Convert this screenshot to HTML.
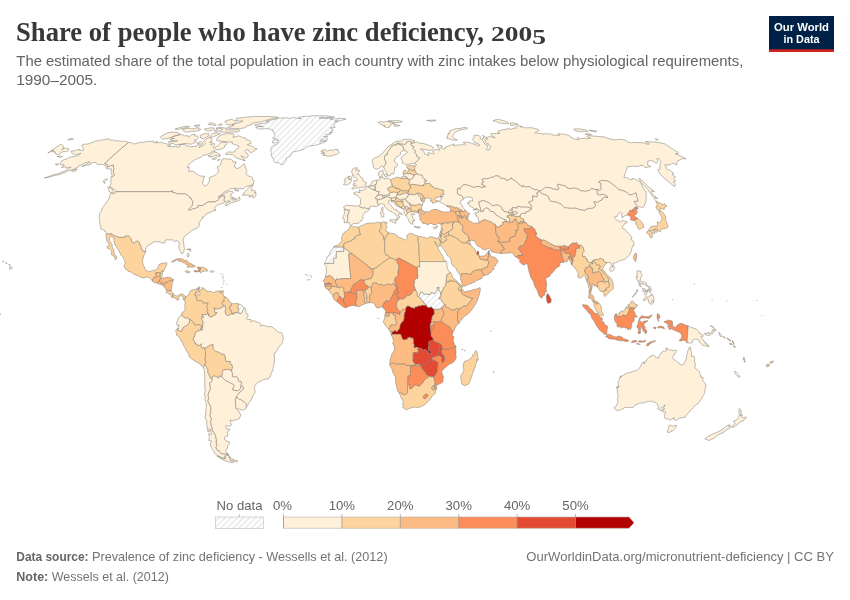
<!DOCTYPE html>
<html lang="en">
<head>
<meta charset="utf-8">
<title>Share of people who have zinc deficiency, 2005</title>
<style>
html,body{margin:0;padding:0;background:#fff;}
body{width:850px;height:600px;position:relative;overflow:hidden;font-family:"Liberation Sans","DejaVu Sans",sans-serif;}
svg{position:absolute;left:0;top:0;will-change:transform;}
.title{font-family:"Liberation Serif","DejaVu Serif",serif;font-weight:700;font-size:28px;fill:#383838;}
.sub{font-size:14.8px;fill:#636363;}
.foot{font-size:12.6px;fill:#737373;}
.leg{font-size:13.2px;fill:#666;}
.logo{font-weight:700;font-size:11.6px;fill:#fff;}
.map path{stroke:#7d7871;stroke-width:0.5;stroke-linejoin:round;}
</style>
</head>
<body>
<svg width="850" height="600" viewBox="0 0 850 600">
<defs>
<pattern id="nd" patternUnits="userSpaceOnUse" width="4.3" height="4.3" patternTransform="rotate(45)">
<rect width="4.4" height="4.4" fill="#fff"/><rect width="1.3" height="4.4" fill="#e7e7e7"/>
</pattern>
</defs>
<rect width="850" height="600" fill="#fff"/>
<text class="title" x="16" y="40.5" textLength="468" lengthAdjust="spacingAndGlyphs">Share of people who have zinc deficiency,</text>
<text class="title" x="491" y="40.5" textLength="55" lengthAdjust="spacingAndGlyphs" style="font-size:20.5px">200<tspan dy="3.6">5</tspan></text>
<text class="sub" x="16.3" y="66.1" textLength="727" lengthAdjust="spacingAndGlyphs">The estimated share of the total population in each country with zinc intakes below physiological requirements,</text>
<text class="sub" x="16.3" y="84.6" textLength="81" lengthAdjust="spacingAndGlyphs">1990–2005.</text>
<g>
<rect x="769" y="16" width="65" height="36" fill="#002147"/>
<rect x="769" y="49.3" width="65" height="2.7" fill="#ce261e"/>
<text class="logo" x="801.5" y="30.8" text-anchor="middle" textLength="55" lengthAdjust="spacingAndGlyphs">Our World</text>
<text class="logo" x="801.5" y="42.7" text-anchor="middle" textLength="36" lengthAdjust="spacingAndGlyphs">in Data</text>
</g>
<g class="map">
<path d="M210.6,270.8L212.6,270.8L214.2,271.3L213.6,272.1L211.8,272.2L210.5,272.1Z" fill="url(#nd)" stroke="#d4d4d4"/>
<path d="M299,117.2L304.2,116.3L308.9,116.3L310.9,115.9L315.8,115.7L326.5,115.9L334.6,117.1L331.8,117.7L326.6,117.7L319.1,117.9L319.6,118.2L324.5,118L328.7,118.5L331.5,118L332.4,118.7L330.5,119.5L334.4,119L341.2,118.3L345.3,118.7L346,119.3L340,120.5L339.2,120.9L334.5,121.1L337.8,121.3L335.8,122.6L334.3,123.8L333.8,126L335.3,127.2L333,127.4L330.3,127.9L332.9,128.9L332.8,130.6L331.1,130.8L332.7,132.6L329.2,132.8L331,133.6L330.2,134.2L327.9,134.6L325.7,134.6L327.4,136.1L327.2,136.9L324.2,136.1L323.2,136.7L325.4,137.2L327.2,138.4L327.4,140.2L324.5,140.6L323.3,139.8L321.6,138.6L321.8,140L319.5,141.2L324,141.2L326.2,141.4L321.4,143.3L316.5,145L311.2,145.8L309.3,145.8L307.4,146.7L304.3,149L300.1,150.6L299,150.7L296.4,151.2L293.8,151.8L291.7,153.2L291.2,154.8L289.9,156.3L286.4,158.2L286.5,160.1L285,162L283.3,164.3L280.7,164.5L278.7,162.5L275,162.5L273.8,161.2L273.4,158.9L271.4,156.1L271.1,154.5L271.7,152.4L270.3,150.3L271.6,148.8L270.8,147.9L273.7,145.3L276.5,144.5L277.6,143.5L278.8,141.8L276.6,142.6L275.5,143L273.8,143.2L272.1,142.5L272.8,141L274,139.9L275.5,139.8L278.6,140.4L276.5,139.1L275.4,138.3L273.6,138.6L272.6,138.1L275.4,136.1L274.9,135.3L274.4,133.9L273.8,131.7L272.3,130.9L272.9,130.1L269.5,128.9L266.5,128.7L262.2,128.9L258.5,129L257.2,128.3L255.6,127.2L260,126.6L263.2,126.4L257.2,126L254.6,125.2L255.4,124.5L261.8,123.5L268,122.6L269.2,121.9L265.9,121.3L267.7,120.6L273.7,119.5L275.9,119.3L276,118.5L279.6,118.1L284.1,117.9L288.4,117.9L289.5,118.3L293.7,117.5L296.7,118.1L298.5,118.2L301.1,118.7L298.3,117.9Z" fill="url(#nd)" stroke="#d4d4d4"/>
<path d="M239,304L239.7,304.3L241.4,304.9L243.8,307.1L244.2,308.2L242.8,310.6L242,312.5L241.1,313.5L240,313.7L239.7,312.9L239.2,312.8L238.5,313.5L237.5,313L238.1,311.9L238.3,310.7L238.7,309.6L237.9,308L237.7,306.2Z" fill="url(#nd)" stroke="#d4d4d4"/>
<path d="M343.8,246.9L333.8,246.9L332.4,249.6L330.9,250.6L330,252.2L329.9,253.6L329.3,255.1L328.5,255.5L327.2,257.2L326.4,259L326.5,259.9L325.7,261.2L324.9,261.9L324.7,263.2L324.6,264.3L325.1,263.4L333.9,263.4L333.6,259.6L334.2,258.3L336.3,258.1L336.4,251.4L343.7,251.5L343.8,247.6Z" fill="url(#nd)" stroke="#d4d4d4"/>
<path d="M441.1,294.3L441.2,296.4L440.9,297.2L439.6,297.2L438.9,298.7L440.3,298.9L441.5,300.2L441.9,301.2L443,301.8L444.4,304.6L442.9,306.4L441.5,307.9L440.1,309.1L438.5,309.1L436.6,309.7L435.1,309.1L434.2,309.8L432.1,308.1L431.6,307L430.3,307.6L429.2,307.4L428.6,307.8L427.6,307.5L426.2,305.4L425.8,304.5L424.1,303.5L423.4,301.9L422.5,300.8L420.9,299.4L420.9,298.6L419.6,297.5L418,296.5L418,296.5L418.7,296.2L419.5,295.7L420,293.4L420.7,292.2L422.3,291.9L422.7,292.6L423.9,294.1L424.6,294.3L425.4,293.9L427,294L427.4,294.5L429.7,294.5L429.7,294L430.9,293.5L431.1,292.7L432,292.2L433.9,293.7L435.1,293.4L436.2,291.5L437.4,290.1L437.2,288.5L436.6,287.8L438,287.7L438.1,287.1L439.2,287.2L439,289.2L439.3,291.1L440.5,292.1L440.8,293L440.8,294.3L441.1,294.3Z" fill="url(#nd)" stroke="#d4d4d4"/>
<path d="M441.2,234.6L441.4,236.1L441.1,236.9L440.1,237.3L440.1,236.6L440.7,236.2L440.1,235.9L440.3,234.2Z" fill="url(#nd)" stroke="#d4d4d4"/>
<path d="M737.8,374L739.3,375.6L740.1,376.8L739.1,377.4L738,376.7L736.7,375.5L735.6,374.1L734.6,372.3L734.5,371.4L735.5,371.5L736.5,372.3L737.3,373.2Z" fill="url(#nd)" stroke="#d4d4d4"/>
<path d="M128.5,142.5L131.3,142.7L134.1,144.1L139.4,142.5L141.7,142.7L148.6,141.2L150.4,141.7L153.1,140.8L153.5,142.7L157.3,141.4L155.8,143L161.4,142.1L163.1,143L166,143.8L167.9,144.3L169.8,144.1L170.9,145.2L167.5,146.3L170.1,146.7L174.9,146.5L176.8,146.1L177.3,147.4L180.2,146.3L179.3,145.4L181.1,144.6L184.7,144.3L185.8,144.7L186.3,146.1L188.4,145.8L190.4,146.8L193.4,146.5L196,146.5L196.8,145.2L198.6,144.7L200.6,145.6L199,147.6L201.4,145.8L202.8,145.8L205.4,143.6L204.7,142.3L203.5,141.4L205.8,139.1L209.1,137.6L211,137.8L211.7,138.9L211.9,141.2L209.5,142.3L212.3,142.7L210.6,145L214.2,143.2L215,144.7L213.3,146.3L213.7,147.9L216.7,146.3L219.3,144.3L221.3,141.9L223.5,142.1L225.8,142.3L227.2,143.4L226.6,144.5L224.3,145.8L224.7,147L223.8,148.1L219.4,149.7L216.8,149.9L215.4,149.2L214.1,150.3L211.1,152.4L209.9,153.3L206.7,154.9L204,155.1L202,156.1L200.8,157.5L198.5,157.9L194.8,159.8L191.2,162.4L189.1,164.3L187,167.2L189.6,167.4L188.8,169.8L188.6,171.5L191.6,171.1L194.6,172L195.9,173L196.5,174.2L198.4,175L199.9,175.9L202.9,176.2L204.8,176.4L203.6,178.4L202.9,180.9L202.9,183.6L204.7,186.1L206.6,185.4L208.9,182.6L209.7,178.9L209.1,177.4L212.7,176.4L215.7,174.7L217.7,173L218.4,171.3L218.3,169.1L217,167.4L220.7,164.8L221,162.6L222.5,159.1L224.2,158.4L226.8,159.1L228.5,159.3L230.4,158.9L231.6,159.6L233,161L233.1,161.9L236.3,161.9L235.2,164.1L234.3,166.9L235.8,167.4L236.6,168.9L239.9,167.4L243,164.8L244.5,163.8L245,166L246.1,168.9L247,171.8L245.5,173.5L247.5,174.7L248.6,176.2L251.4,176.9L252.5,177.7L252.5,179.7L253.7,180.1L254.2,180.9L253.4,183.9L251.8,184.6L250,185.6L246.4,186.4L243.3,188.6L239.8,188.9L235.6,188.4L232.6,188.4L230.5,188.6L228.2,190.4L225.2,191.4L221.1,195L217.9,197.3L219.7,196.8L224.3,193.5L229.1,191.4L232.2,191.2L233.6,192.4L231.2,194L230.9,196.8L230.9,198.8L233.1,200.1L236.8,199.6L239.7,196.8L239.3,198.5L240.3,199.6L237.3,201.1L232.1,202.6L229.9,203.7L226.8,205.7L225.4,205.5L226,203.2L230.3,201.1L227,201.1L224.6,201.6L223.7,200.1L224.9,196.5L224.3,195.7L222.7,196.3L222.3,195.7L220,197.5L218.7,199.6L217.5,200.6L215.9,201.1L215.4,201.9L211.7,201.9L208.4,201.9L207.4,202.4L204.4,204.2L203.1,205.5L199.2,205.5L198,205.7L198.3,206.2L198.1,207.3L194.9,208.6L192.4,209.1L189.6,210.4L188.5,210.1L188.5,209.3L190.9,207L192.1,205.5L192.5,203.4L192.8,201.1L191.3,199.8L191.7,199.3L190.8,198.5L191,198L189.6,197.8L189.8,197L187.3,195.2L184.2,193.5L182.1,194.2L179.4,193.5L177.5,194L175.9,193.2L174.1,192.7L172.8,192.4L172.3,192.2L172.7,190.7L171.9,190.7L171.4,191.7L161.7,191.7L151.6,191.7L141.6,191.7L131.5,191.7L121.4,191.7L115.8,191.7L115.9,190.9L113.2,189.1L112.5,188.1L109.7,187.1L110.2,184.9L111.5,183.4L110.1,182.1L111.4,180.1L110.5,178.4L111.5,177.2L113.5,175.9L114.8,174.5L113,172.8L113.6,170.1L113.8,168.4L113.3,167.2L113.1,166.2L113.2,165L110.6,165.7L107.4,167.2L107.5,165.5L107.2,164.6L106.1,163.8L104.3,163.8L108.5,159.8L113.6,155.1L118.8,150.6L124.1,146.1L128.5,142.5ZM113.5,192.9L109.6,192.2L107.7,187.1L109.5,187.6L112,188.4L112.6,190.4L113.7,191.4ZM105.6,179.2L107.7,178.9L104.9,181.6L104.8,183.6L103.7,182.6L103.5,180.6ZM251.5,187.4L252,189.4L251.2,190.2L252.8,190.9L253.8,190.2L255.5,191.2L254.4,192.9L256,192.4L255.8,193.7L256.1,195.5L254.6,197.5L253.7,197.8L252.4,197.3L253.4,195.2L253.1,194.9L250,197L248.8,197L250.6,195.7L248.8,195.2L246.7,195.2L242.6,195.2L242.6,194.5L244.1,193.6L243.5,192.9L245.6,191.4L248.9,187.4L250.8,185.9L252.6,185.1L253.6,185.1ZM232.5,196.8L232.8,197.9L234.3,198.3L236.1,198.3L234.8,199.3L232.2,198.3ZM234,189.4L237,189.9L238.9,190.9L235.4,190.7ZM215,151.2L214.6,152.4L215.8,151.9L216.4,152.6L217.8,153.3L219.5,154L218.8,155.2L220.2,155L220.9,155.8L218.9,156.5L216.6,156L216.2,154.9L213.7,156.1L210.3,157.4L210.5,156.1L208,156.3L210.3,155.1L211.9,153.3ZM214.6,157.7L216.6,157.7L215.5,159.3L213.4,159.3L212.1,159.3L212.1,158.8ZM218.3,159.6L220.2,159.3L218.6,160.8L217.5,160.5ZM245.4,160.5L243.5,160.1L243.8,159.1L242.5,157.7L241.1,155.7L244.5,157.6L246.6,158.2L247.9,156.5L248.1,154.2L247.7,153.6L245.7,152.6L244.8,151.2L245.7,149.9L248.1,149.7L249.5,151.9L251.2,152.8L255.6,150.1L257,148.5L254.4,148.5L252.9,146.4L250.6,145.9L247.4,144.5L251.1,143.4L250.8,141.4L249.9,140.6L246.5,139.7L245.9,138.2L242.9,137.8L241.3,136.9L238.6,135.8L236.4,136.6L232.7,137.2L234.1,135.9L233.2,133.7L228.8,133.8L227.4,133.6L221.6,134.8L217.7,137.4L216.7,139.5L216.9,140.8L220.4,141L222.3,141.7L227.1,141.9L230.1,142.3L232.3,141.7L231.9,143.4L234.3,144.5L236.9,145.2L238.9,146.1L238.6,147.9L235.5,149.9L234.9,151.7L232.2,152.2L228,151.9L225.6,153.8L225.9,154.5L229.1,154.5L232.6,154.5L234.5,156.3L236.1,157.7L239,158.9L242.9,160.1ZM168.4,142.5L170.6,143.3L173.4,143.4L174.6,144.7L179,144.5L185.1,143.4L187.3,143.7L191.1,144.2L195,142.5L196.2,141.2L194,140.6L197,139.5L198.5,137.2L197.2,136.1L194.6,135.7L194.5,134L191.6,134.6L189.3,136.7L187.9,137.2L187.8,135.5L184.6,135.9L183.7,135.3L181.3,134.4L179.2,135L175.1,135.7L172.4,136.7L171.2,138.4L174.3,138.6L170,139.1L170.7,140.4L177.7,140.8L175.3,141.4L168.6,141.7ZM162.4,139.3L160.6,137.6L161.3,136.1L165.8,133.8L168.3,132.6L173.2,132.1L178.2,132.6L180.3,134.2L174.5,136.3L170.3,137.6L166.9,138.6ZM182.4,129.9L183.9,131.2L185.3,132.2L190.5,131.7L196.3,131.1L200.1,130.1L200.6,129.1L198.2,128.7L198.8,127.7L197.6,127.5L194.9,128.5L191.2,128.9L188,128.1L182.9,129.3ZM175,129.1L178.6,129.3L182.1,128.5L187.7,127.4L189.6,126.4L186.1,126.2L179.6,127.5ZM200.2,135.5L200.5,137.8L203.6,138.6L208.2,136.3L209.1,133.8L204.6,133.6ZM212.7,133.2L209.5,137.2L211.6,137.4L216,135.7L220.6,133.6L218.1,133ZM219.8,131.7L225.4,132.4L233.5,132L237.9,131.8L240,130.7L238.8,129.6L232.5,129.8L225.9,129.9L226.8,128.3L222.6,127.7L218.5,127.3L216,128.3L220.7,128.5L222.9,129.3L220.4,130.5ZM204.1,129.1L206,130.1L207.9,131.1L212.5,130.1L214.4,128.1L211.1,127.7L207.1,128.5ZM214.2,130.3L215.1,131.7L217.4,131.7L218.8,130.5L218,129.7ZM227.3,128.1L233.7,128.5L240.3,128.7L245.5,127.5L246,126.2L252.3,124.3L251.9,123.3L256.2,122.6L260.8,121.9L265.3,120.5L273.9,118.3L277.9,117.5L277.9,117.1L269.9,116.5L260,116.5L255.2,116.4L250.5,116.8L245.9,117.2L242.3,117.7L236,118.3L236.7,119.4L238,121L242.9,121.1L238.7,122.8L236.1,123.3L231.9,124.7L233.8,125.4L231.2,126.2L228.1,127.3ZM231.4,119.4L234.1,120.3L236.7,120.6L236,122.4L234.7,123.7L231.1,124.9L226.9,124.7L226.4,123.2L225.1,122L225,121.2L228.6,120ZM210.2,122.8L212.8,123L216.4,125.2L214.5,125.6L211.2,124.7L208.3,124.5ZM220.8,123.7L222.5,124.5L220.9,125.4L218.4,125ZM198.7,124.9L200.2,125.4L199,125.8L195.5,126.4L194.1,125.8L196.3,125.1ZM196.6,143L198.7,142.3L200.7,141.4L201.9,142L202.5,142.4L203.1,143.6L201.3,144.4L199.7,143.7L198.1,144Z" fill="#fef0d9"/>
<path d="M115.8,191.7L115.2,193.2L113.6,193.8L110.9,193.3L109.7,195.5L109.7,197L108.6,199.3L106.9,201.9L105.2,204.4L102.5,207.5L101.7,210.1L100.8,212.2L99.2,214L99.6,215.3L99,217.5L99.5,219.4L100.1,220.5L99.6,222L100,223.6L100,224.6L101,227.2L100.6,228.8L102.9,229.6L104.6,230.4L104.5,231.1L105.5,231.4L106.2,233L106.2,234.3L108.7,234L111.6,233.7L111.2,234.3L114.1,235.6L118.5,237.4L122.9,237.4L124.7,237.4L125.1,236.1L128.8,236.1L129.4,237.1L130.3,237.9L131.2,239.2L131.5,240.5L131.6,241.8L132.7,242.6L134.3,243.4L136.1,241.3L137.9,241.3L139.2,242.4L139.8,244.2L140.4,245.7L141.3,247.3L141.4,249.1L141.8,250.2L143.4,251L144.8,251.7L145.8,251.5L145.6,249.4L146,247.6L148.3,245.2L150.7,244.2L153.2,242.1L155.4,241.6L158.1,242L160.2,241.6L161.4,243L163.1,243.1L164.8,243L165,240.3L167.7,239.7L169.7,240L172.2,239.7L173.3,240.4L174.2,241.6L177.1,240.5L177.8,241L179.2,243.1L179.4,244.6L178.8,246.3L179.3,249.4L180.3,251.5L181.1,253.3L182.9,253.3L183.8,251.7L184.4,248.9L183.9,246L184,244.7L183.2,240.8L183.2,239L184,237.1L186.9,234.3L189.8,232.4L191.6,230.7L194.3,229.3L197,228.3L199,226.3L199.3,223.7L198.7,222.5L199.6,222L200.7,220.2L202.4,218.9L202.6,217.9L202.3,216.8L203.2,217.5L205.3,215.5L206.3,213.7L211,212.2L211.4,211.4L213.3,210.9L214.3,210.9L215.7,210.5L216,209.5L214.7,209.7L214.6,208.7L215,207.3L217.2,205.2L219.5,204.4L222.1,203.5L224.3,202.6L224.6,201.6L223.7,200.1L224.9,196.5L224.3,195.7L222.7,196.3L222.3,195.7L220,197.5L218.7,199.6L217.5,200.6L215.9,201.1L215.4,201.9L211.7,201.9L208.4,201.9L207.4,202.4L204.4,204.2L203.1,205.5L199.2,205.5L198,205.7L198.3,206.2L198.1,207.3L194.9,208.6L192.4,209.1L189.6,210.4L188.5,210.1L188.5,209.3L190.9,207L192.1,205.5L192.5,203.4L192.8,201.1L191.3,199.8L191.7,199.3L190.8,198.5L191,198L189.6,197.8L189.8,197L187.3,195.2L184.2,193.5L182.1,194.2L179.4,193.5L177.5,194L175.9,193.2L174.1,192.7L172.8,192.4L172.3,192.2L172.7,190.7L171.9,190.7L171.4,191.7L161.7,191.7L151.6,191.7L141.6,191.7L131.5,191.7L121.4,191.7L115.8,191.7ZM128.5,142.5L125.8,141.2L122.1,141.4L119.1,140.8L114.7,140.8L113.4,139.9L109.7,140.1L109.6,139.3L108.1,138.6L103.9,139.9L102.6,139.7L97.9,140.8L95.7,141L90.9,143L88,144.1L84.3,144.1L81.7,145.2L83.2,147L82.8,148.1L83.7,149L83.2,150.3L79.6,150.3L79.9,149.2L74.5,150.8L70.9,151.2L71.5,152.6L73.5,154L75.9,154.5L78.5,154.2L80.9,153.3L78.8,154.7L78,155.6L75.8,156.3L74.4,156.3L70.9,157L69.1,157.2L67.7,158.4L64.2,159.6L61.7,161L60.2,163.4L60.9,164.8L64,164.6L63.9,165.5L62.7,166.2L61.4,167.7L65.3,166.7L66,168.4L68,167.4L71.1,167.2L66.3,170.3L63.7,171.3L57,174.2L54,174.5L50.3,175.9L44.3,178.2L44.6,177.7L48.4,177.4L51.5,176.4L56.1,175.2L60.8,174.2L68.4,170.8L74.2,169.1L78,167.2L78.4,166L82.5,164.3L85.1,162.9L89.3,161.5L90.1,162.2L81.7,166.5L86.7,165.3L90.6,164.6L91.1,163.1L94.6,162.4L96.1,162.9L98,164.6L100.8,164.3L103.3,164.8L104.6,165.3L106,165.7L105.9,168.2L107.4,168.9L110.4,168.9L111.8,169.1L110.9,171.3L111.5,173.3L112,175.5L111.5,177.2L113.5,175.9L114.8,174.5L113,172.8L113.6,170.1L113.8,168.4L113.3,167.2L113.1,166.2L113.2,165L110.6,165.7L107.4,167.2L107.5,165.5L107.2,164.6L106.1,163.8L104.3,163.8L108.5,159.8L113.6,155.1L118.8,150.6L124.1,146.1L128.5,142.5ZM71.4,170.8L73.9,171.5L76.6,170.3L77.2,169.1L74.2,169.6ZM55.5,164.1L59.1,163.8L57.3,165.1L55.7,164.7ZM57.2,156.5L60.8,155.8L62.4,156.8L59.9,157.6L59.2,156.5ZM9.5,267.6L10.4,266.2L11.7,266.9L12.3,268.2L10.4,269.3L9.5,269.3ZM8.9,264.5L9.8,264.4L10.3,265L9.3,265.4ZM5.6,262.9L6.6,262.4L7,263.5L6,263.5ZM2.6,261.4L3.7,261.1L3.6,261.8L2.7,261.9Z" fill="#fef0d9"/>
<path d="M106.2,236.6L106.8,240.3L107.2,241.8L109.3,244.4L109,245.7L106.8,246.8L107.6,248.3L109.7,249.1L111.8,251.2L111.4,254.6L113.9,256.4L114.9,258L115.3,259.6L116.9,258.5L116.4,256.2L115.1,255.6L114.7,254.3L113.9,252L113.8,249.4L112.8,248.1L111.9,246.5L112.5,245L111,243.1L110.2,241.4L109.4,240.3L110,237.1L110.6,236.1L113.7,237.7L114.1,242.6L115,244.7L116,246.3L117.9,249.4L118.8,250.2L120.1,253.3L120.9,255L122.8,257L124.3,259.6L125.3,263.2L124,265.8L125.1,268.7L127.4,270.1L128.1,271.3L131.6,272.3L133.8,274.2L137.8,275.7L141.3,277.5L144.1,277.9L147.4,276.8L150.1,278.3L152.6,281.2L153,279.6L152.8,279.2L154,277.1L157,277.1L157.1,276.2L156.6,275.5L155.1,274L156.1,274L156.3,272.5L160.5,272.6L160.6,272.2L162.2,270.8L162.7,270.8L163.5,271.4L165,268.2L166.8,264.6L167,263.4L166.6,262.8L163.2,263L159.1,264.3L158.1,267.2L157.3,268.7L155.7,269.8L154.2,270.2L152.5,270.7L148.6,271.7L145.5,269.9L144.8,268.6L144.5,267.1L143.3,265.2L142.8,263.2L142.5,260.5L143.7,255.7L145.8,251.5L144.8,251.7L143.4,251L141.8,250.2L141.4,249.1L141.3,247.3L140.4,245.7L139.8,244.2L139.2,242.4L137.9,241.3L136.1,241.3L134.3,243.4L132.7,242.6L131.6,241.8L131.5,240.5L131.2,239.2L130.3,237.9L129.4,237.1L128.8,236.1L125.1,236.1L124.7,237.4L122.9,237.4L118.5,237.4L114.1,235.6L111.2,234.3L111.6,233.7L108.7,234L106.2,234.3Z" fill="#fdd49e"/>
<path d="M152.6,281.2L153,279.6L152.8,279.2L154,277.1L157,277.1L157.1,276.2L156.6,275.5L155.1,274L156.1,274L156.3,272.5L160.5,272.6L160.3,274.7L159.8,277.5L160.5,277.5L161.1,278.1L162,278.1L159.7,279.7L159.1,281.4L158.5,281.6L158.7,281.9L157.3,282.8L157.2,283.2L156.1,282.8L154.7,282.7L153.6,282.2Z" fill="#fdbb84"/>
<path d="M160.5,272.6L160.6,272.2L162.2,270.8L162.7,270.8L163,271.8L162.4,273.1L162.4,274.7L161.9,276L160.5,277.5L159.8,277.5L160.3,274.7Z" fill="#fdd49e"/>
<path d="M157.2,283.2L157.3,282.8L158.7,281.9L159.1,281.4L159.7,281.6L160.2,282.1L160.9,282.6L160.9,282.9L161.9,282.6L162.3,282.8L162.6,283L162.3,284.1L162.1,284.7L160.7,284.7L159,283.9L157.8,283.8Z" fill="#fdbb84"/>
<path d="M162.3,284.1L162.6,283L162.3,282.8L161.9,282.6L160.9,282.9L160.9,282.6L160.2,282.1L159.7,281.6L159.1,281.4L159.7,279.7L162,278.1L162.8,277.7L165,277.9L167.1,277.3L168.5,277.5L169.5,277.3L170.8,277.7L172.1,278.8L172.8,279.2L173.4,279.9L172.6,279.9L171.4,280.5L170.3,280.9L169.6,280.4L168.7,281L167,282.9L166.4,282.4L164.8,283.2L164.8,284.4L164.1,285L163.4,285.1L163,284.3Z" fill="#fdbb84"/>
<path d="M163.4,285.1L164.1,285L164.8,284.4L164.8,283.2L166.4,282.4L167,282.9L168.7,281L169.6,280.4L170.3,280.9L171.4,280.5L172.6,279.9L173.4,279.9L173.2,280.2L173,280.7L173.1,281.7L172.5,282.6L172.2,283.6L172,284.8L172.1,285.4L172,286.6L171.7,286.9L171.4,288L171.5,288.7L170.9,289.4L171,290.1L171.3,290.5L170.1,290.8L168.5,290.5L166.7,290.1L165.9,289.3L165,288.2L164.5,287.3L163.6,286.5L162.5,285.3Z" fill="#fdbb84"/>
<path d="M171.3,290.5L170.1,290.8L168.5,290.5L166.7,290.1L166.1,290.6L166.7,291L166.3,292.6L166.6,293.1L168.1,292.7L168.3,293.5L168.8,293.9L170.5,294.8L171.2,295.4L171.1,296L171.3,297L172.5,297.5L172.6,297L172.9,296.5L172.7,295.4L172.8,294.3L173.6,294.1L172.7,292.9L171.8,291.9Z" fill="#fdd49e"/>
<path d="M172.5,297.5L172.6,297L172.9,296.5L172.7,295.4L172.8,294.3L173.6,294.1L174.4,295L174.4,295.5L175.3,295.7L175.5,295.5L176.1,296.1L177.2,295.9L178.2,295.2L179.7,294.7L180.5,293.9L181.8,294.1L182.9,294.4L183.9,294.9L184.6,295.7L185.5,296.4L185.2,296.8L185.6,298.3L185.1,299.1L184.4,298.9L184.1,300.2L183.4,299.4L182.9,298L183.5,297.3L182.9,297.1L182.5,296.3L181.4,295.5L180.4,295.7L179.9,296.6L179,297.3L178.4,297.4L178.2,297.9L179.2,299.3L178.6,299.7L178.2,300L177.1,300.2L176.8,298.6L176.5,299.1L175.8,298.9L175.3,297.9L174.4,297.7L173.8,297.4L172.8,297.4L172.7,298Z" fill="#fdd49e"/>
<path d="M171.4,261.9L172.7,261.1L173.8,260.3L176.2,259L177.4,258.8L179.9,258.7L181.7,258.8L183.6,259.6L184.4,260.6L186.5,260.3L187.3,260.9L190.2,263.7L191,263.7L192.3,264.2L192,264.9L193.7,265.1L195.3,266.1L194.9,266.7L193.4,267.1L191.8,267.2L190.3,267L187,267.2L188.7,265.8L187.9,265.1L186.4,264.9L185.8,264.2L185.4,262.7L184.1,262.8L182.1,262.1L181.5,261.5L178.6,261.1L177.9,260.6L178.8,260L176.6,259.8L174.8,261.2L173.9,261.3L173.5,261.9L172.3,262.2Z" fill="#fdbb84"/>
<path d="M187,270.8L188.5,271L189.7,271.7L190,272.4L188.4,272.4L187.6,272.9L186.4,272.4L185.2,271.5L185.5,270.9Z" fill="#fdd49e"/>
<path d="M200.7,267.6L198.9,267.1L196.9,267.4L197.3,267.8L198.2,268.2L198.1,269.2L199,270.3L198.1,270.9L196.4,270.7L194.3,270.4L194,271.2L195.2,272L198.8,271.5L200.2,272L200.3,271.2L199.8,270.5L200.4,270L200.7,269Z" fill="#fc8d59"/>
<path d="M200.7,267.6L201,267.2L202.8,267.2L204.1,267.8L204.7,267.8L205,268.7L206.2,268.7L206.1,269.4L207,269.5L208.1,270.5L207.1,271.5L206.1,271L205.1,271.1L204.3,271L203.9,271.4L203,271.6L202.7,271L201.9,271.3L200.8,273.1L200.3,272.7L200.2,272L200.3,271.2L199.8,270.5L200.4,270L200.7,269Z" fill="#fdd49e"/>
<path d="M187.8,253.3L188.5,253.3L189.1,255.6L187.9,257.2L187.1,254.9ZM186.7,249.1L189.3,249.7L189.4,248.9L187.2,250ZM190.1,248.9L191.1,249.7L190.3,251.5L189.9,251.2L189.4,248.9Z" fill="#fef0d9"/>
<path d="M221.2,291.1L223.3,290.6L223.4,292.7L221.3,292.9Z" fill="#fdd49e"/>
<path d="M189.4,319.4L188.4,318.8L187.3,317.9L186.6,318.3L184.7,318L184.1,316.8L183.7,316.9L181.4,315.4L181.1,314.6L181.9,314.4L181.9,313.1L182.4,312.1L183.6,312L184.6,310.3L185.5,309L184.6,308.3L185.1,306.8L184.7,304.5L185.2,303.7L184.9,301.6L184.1,300.2L184.4,298.9L185.1,299.1L185.6,298.3L185.2,296.8L185.5,296.4L186.6,296.5L188.4,294.6L189.4,294.4L189.5,293.5L190,291.3L191.4,290.1L192.9,290.1L193.1,289.5L194.9,289.7L196.7,288.4L197.7,287.8L198.9,286.6L199.7,286.7L200.2,287.4L199.7,288.3L198.2,288.7L197.6,290L196.6,290.8L195.9,291.8L195.5,293.6L194.8,295.1L196,295.3L196.2,296.5L196.7,297.1L196.8,298.1L196.5,299.1L196.6,299.7L197.1,299.9L197.7,300.8L200.6,300.5L202,300.9L203.5,303.1L204.4,302.8L206.1,303L207.4,302.7L208.2,303.1L207.7,304.5L207.2,305.4L207,307.3L207.4,309L208,309.8L208.1,310.3L206.9,311.6L207.7,312.2L208.3,313.1L209,315.7L208.5,316.1L208.1,314.5L207.5,313.7L206.7,314.6L202.2,314.5L202.2,316.2L203.6,316.4L203.5,317.4L203,317.1L201.7,317.6L201.7,319.5L202.7,320.4L203.1,321.9L203.1,323.1L202.2,330.2L201,328.8L200.3,328.8L201.7,326.1L199.9,324.9L198.6,325.1L197.7,324.7L196.4,325.3L194.7,325L193.3,322.3L192.3,321.6L191.5,320.4L190,319.2Z" fill="#fdd49e"/>
<path d="M199.7,288.3L199.6,288.9L198.2,289.2L198.9,290.4L198.8,291.8L197.7,293.3L198.5,295.4L199.5,295.2L200.1,293.3L199.4,292.4L199.4,290.4L202.3,289.3L202.1,288.1L203,287.3L203.7,289.1L205.3,289.2L206.7,290.6L206.7,291.5L208.8,291.5L211.2,291.2L212.5,292.4L214.2,292.7L215.6,291.9L215.6,291.3L218.5,291.1L221.2,291.1L219.2,291.8L220,293.1L221.8,293.3L223.5,294.5L223.8,296.6L225,296.6L225.8,297.2L224,298.7L223.7,299.7L224.5,300.6L223.9,301.1L222.5,301.5L222.5,302.8L221.8,303.5L223.3,305.4L223.6,306.2L222.7,307.2L220.1,308.2L218.5,308.5L217.8,309.2L216,308.5L214.3,308.2L213.8,308.4L214.9,309.1L214.7,310.8L215,312.5L217,312.7L217.1,313.3L215.4,314L215.2,315.1L214.2,315.5L212.5,316.1L212,316.9L210.2,317.1L209,315.7L208.3,313.1L207.7,312.2L206.9,311.6L208.1,310.3L208,309.8L207.4,309L207,307.3L207.2,305.4L207.7,304.5L208.2,303.1L207.4,302.7L206.1,303L204.4,302.8L203.5,303.1L202,300.9L200.6,300.5L197.7,300.8L197.1,299.9L196.6,299.7L196.5,299.1L196.8,298.1L196.7,297.1L196.2,296.5L196,295.3L194.8,295.1L195.5,293.6L195.9,291.8L196.6,290.8L197.6,290L198.2,288.7Z" fill="#fdd49e"/>
<path d="M225.8,297.2L227.3,298.1L228.7,299.8L228.7,301.2L229.6,301.2L230.8,302.5L231.6,303.4L231.2,305.8L229.8,306.5L229.9,307.1L229.5,308.4L230.4,310.3L231.2,310.3L231.4,311.8L232.8,314L232.3,314.2L231,313.9L230.2,314.6L229.2,315.1L228.5,315.2L228.2,315.7L227.1,315.6L225.7,314.3L225.5,313.1L224.9,311.8L225.3,309.6L226,308.7L225.5,307.5L224.7,307.1L225.1,305.9L224.5,305.3L223.3,305.4L221.8,303.5L222.5,302.8L222.5,301.5L223.9,301.1L224.5,300.6L223.7,299.7L224,298.7Z" fill="#fdd49e"/>
<path d="M231.6,303.4L234.4,304L234.7,303.5L236.5,303.3L239,304L237.7,306.2L237.9,308L238.7,309.6L238.3,310.7L238.1,311.9L237.5,313L236.2,312.4L235.1,312.7L234.2,312.5L233.9,313.2L234.3,313.7L234.1,314.3L232.8,314L231.4,311.8L231.2,310.3L230.4,310.3L229.5,308.4L229.9,307.1L229.8,306.5L231.2,305.8Z" fill="#fdd49e"/>
<path d="M178.1,327.9L179.3,325.9L178.8,324.8L177.9,326L176.5,324.9L177,324.1L176.6,321.8L177.4,321.4L177.8,319.7L178.7,318.1L178.5,317L179.8,316.4L181.4,315.4L183.7,316.9L184.1,316.8L184.7,318L186.6,318.3L187.3,317.9L188.4,318.8L189.4,319.4L189.7,321.4L189,323.1L186.5,325.8L183.8,326.8L182.4,329.1L182.1,330.9L180.8,331.9L179.8,330.6L178.8,330.3L177.9,330.5L177.8,329.6L178.4,329Z" fill="#fef0d9"/>
<path d="M204.9,364.8L204.4,366.2L203.3,366.8L200.9,365.3L200.6,364.3L195.8,361.7L191.5,358.8L189.6,357.2L188.5,355L188.8,354.3L186.6,350.9L184,346.1L181.5,340.9L180.5,339.7L179.7,337.7L177.9,336.1L176.2,335L176.9,333.8L175.7,331.4L176.3,329.5L178.1,327.9L178.4,329L177.8,329.6L177.9,330.5L178.8,330.3L179.8,330.6L180.8,331.9L182.1,330.9L182.4,329.1L183.8,326.8L186.5,325.8L189,323.1L189.7,321.4L189.4,319.4L190,319.2L191.5,320.4L192.3,321.6L193.3,322.3L194.7,325L196.4,325.3L197.7,324.7L198.6,325.1L199.9,324.9L201.7,326.1L200.3,328.8L201,328.8L202.2,330.2L200.1,330.1L199.8,330.5L197.9,331L195.4,332.7L195.2,334L194.7,334.9L195,336.3L193.6,337L193.6,338.1L193,338.6L194.1,341L195.4,342.5L195,343.7L196.6,343.8L197.5,345.2L199.5,345.3L201.3,343.7L201.4,347.7L202.5,348L203.7,347.5L206,351.7L205.5,352.6L205.5,354.5L205.7,356.7L204.9,358L205.4,358.9L204.9,359.8L206.1,362Z" fill="#fdd49e"/>
<path d="M203.7,347.5L205.4,347.8L206.6,347.7L207.1,346.9L209,345.9L210.2,344.9L213.2,344.4L213,346.4L213.4,347.4L213.3,349.2L215.9,351.5L218.5,351.9L219.5,352.9L221,353.4L222,354.2L223.5,354.1L224.8,354.9L225,356.4L225.5,357.2L225.6,358.3L225,358.3L226.1,361.4L230.5,361.5L230.2,363L230.6,364L231.9,364.8L232.5,366.4L232.3,368.4L231.8,369.6L232.1,371.1L231.5,371.6L231.4,370.8L229.1,369.5L227,369.4L223.1,370.2L222.3,372.5L222.4,373.9L221.8,377L221.3,376.4L218.8,376.3L218.1,378.4L216.6,376.6L213.6,375.9L211.9,378.3L210.4,378.6L209.1,375L207.5,372.1L208,369.6L206.7,368.5L206.2,366.6L204.9,364.8L206.1,362L204.9,359.8L205.4,358.9L204.9,358L205.7,356.7L205.5,354.5L205.5,352.6L206,351.7Z" fill="#fdd49e"/>
<path d="M235.7,397.8L238.1,394.2L240.3,391.7L241.7,390.6L243.4,389.2L243.2,387.1L241.9,385.6L240.8,386.1L241.1,384.6L241.3,383.1L241.1,381.6L240.3,381.2L239.5,381.6L238.6,381.5L238.2,380.4L237.8,378.1L237.3,377.3L235.8,376.6L234.9,377.1L232.4,376.6L232.3,373L231.5,371.6L232.1,371.1L231.8,369.6L232.3,368.4L232.5,366.4L231.9,364.8L230.6,364L230.2,363L230.5,361.5L226.1,361.4L225,358.3L225.6,358.3L225.5,357.2L225,356.4L224.8,354.9L223.5,354.1L222,354.2L221,353.4L219.5,352.9L218.5,351.9L215.9,351.5L213.3,349.2L213.4,347.4L213,346.4L213.2,344.4L210.2,344.9L209,345.9L207.1,346.9L206.6,347.7L205.4,347.8L203.7,347.5L202.5,348L201.4,347.7L201.3,343.7L199.5,345.3L197.5,345.2L196.6,343.8L195,343.7L195.4,342.5L194.1,341L193,338.6L193.6,338.1L193.6,337L195,336.3L194.7,334.9L195.2,334L195.4,332.7L197.9,331L199.8,330.5L200.1,330.1L202.2,330.2L203.1,323.1L203.1,321.9L202.7,320.4L201.7,319.5L201.7,317.6L203,317.1L203.5,317.4L203.6,316.4L202.2,316.2L202.2,314.5L206.7,314.6L207.5,313.7L208.1,314.5L208.5,316.1L209,315.7L210.2,317.1L212,316.9L212.5,316.1L214.2,315.5L215.2,315.1L215.4,314L217.1,313.3L217,312.7L215,312.5L214.7,310.8L214.9,309.1L213.8,308.4L214.3,308.2L216,308.5L217.8,309.2L218.5,308.5L220.1,308.2L222.7,307.2L223.6,306.2L223.3,305.4L224.5,305.3L225.1,305.9L224.7,307.1L225.5,307.5L226,308.7L225.3,309.6L224.9,311.8L225.5,313.1L225.7,314.3L227.1,315.6L228.2,315.7L228.5,315.2L229.2,315.1L230.2,314.6L231,313.9L232.3,314.2L232.8,314L234.1,314.3L234.3,313.7L233.9,313.2L234.2,312.5L235.1,312.7L236.2,312.4L237.5,313L238.5,313.5L239.2,312.8L239.7,312.9L240,313.7L241.1,313.5L242,312.5L242.8,310.6L244.2,308.2L244.9,308.1L245.5,309.5L246.7,314L248,314.5L248,316.3L246.3,318.4L247,319.2L251.1,319.6L251.2,322.2L252.9,320.5L255.8,321.5L259.6,323L260.8,324.6L260.4,326L263.1,325.2L267.6,326.6L271,326.5L274.5,328.6L277.5,331.6L279.2,332.3L281.2,332.4L282,333.2L282.9,336.6L283.3,338.1L282.5,342.5L281.3,344.2L278.2,347.8L276.9,350.7L275.2,353L274.7,353L274.1,355L274.5,359.9L273.9,365.6L273.3,366.6L273,370.1L271,373.5L270.8,376.2L269,377.3L268.6,378.9L266.1,378.9L262.7,379.9L261.2,381L258.7,381.8L256.2,383.9L254.6,386.5L254.5,388.4L255,389.9L254.9,392.5L254.5,393.7L253.1,395.2L251.3,399.8L249.7,401.9L248.4,403.1L247.8,405.6L246.6,407L245.7,405.6L246.5,404.3L244.9,402.6L243,401.1L240.4,399.4L239.6,399.5L237.1,397.5Z" fill="#fef0d9"/>
<path d="M221.8,377L222.4,373.9L222.3,372.5L223.1,370.2L227,369.4L229.1,369.5L231.4,370.8L231.5,371.6L232.3,373L232.4,376.6L234.9,377.1L235.8,376.6L237.3,377.3L237.8,378.1L238.2,380.4L238.6,381.5L239.5,381.6L240.3,381.2L241.1,381.6L241.3,383.1L241.1,384.6L240.8,386.1L240.7,388.4L238.9,390.4L237.2,390.8L234.7,390.4L232.3,389.7L234.1,385.7L233.6,384.6L231.2,383.6L228.2,381.6L226.3,381.3Z" fill="#fef0d9"/>
<path d="M235.7,397.8L237.1,397.5L239.6,399.5L240.4,399.4L243,401.1L244.9,402.6L246.5,404.3L245.7,405.6L246.6,407L245.9,408.7L243.7,410.1L242,409.6L240.9,409.9L238.7,408.8L237.2,408.8L235.6,407.4L235.5,405.7L235.8,405.1L235.3,402.5L235.5,399.9Z" fill="#fef0d9"/>
<path d="M235.7,397.8L235.5,399.9L235.3,402.5L235.8,405.1L235.5,405.7L235.6,407.4L235.7,408.8L238.9,411L239,412.8L240.6,413.9L240.7,415.2L239.4,418.5L236.5,419.9L232.3,420.5L229.9,420.2L230.8,421.7L230.8,423.7L231.6,425L230.5,425.9L228.5,426.3L226.2,425.3L225.5,426L226.6,428.6L228.2,429.3L229.1,428.5L230.1,429.9L228.4,430.7L227.3,432.3L227.8,434.8L227.7,436.2L225.8,436.2L224.6,437.5L224.6,439.5L227.3,441.3L229.4,441.8L229.4,444.1L227.6,445.6L227.3,448.5L225.9,449.5L225.5,450.7L227.2,453.3L229.1,454.7L228.2,454.6L226.3,454.2L221.4,453.9L219.9,452.4L219.2,450.6L217.9,450.7L216.8,449.8L215.6,447.1L216.7,446L216.7,444.4L216,443.1L216.3,440.9L215.8,437.6L215.1,436.1L215.8,435.6L215.2,434.6L214.1,434.1L214.4,433L213.1,432L211.7,429.1L212.3,428.5L211,425.4L210.7,422.7L210.6,420.4L211.6,419.5L210.3,417L209.7,414.6L210.9,412.9L210.3,410.7L210.9,408.1L210.4,405.7L209.7,405.3L207.7,400.8L208.6,398.1L207.9,395.6L208.3,393.2L209.3,390.7L210.6,389.1L209.8,388.1L210.2,387.3L209.5,382.9L211.8,381.6L212.3,378.9L211.9,378.3L213.6,375.9L216.6,376.6L218.1,378.4L218.8,376.3L221.3,376.4L221.8,377L226.3,381.3L228.2,381.6L231.2,383.6L233.6,384.6L234.1,385.7L232.3,389.7L234.7,390.4L237.2,390.8L238.9,390.4L240.7,388.4L240.8,386.1L241.9,385.6L243.2,387.1L243.4,389.2L241.7,390.6L240.3,391.7L238.1,394.2ZM228.5,455.5L229.7,456.6L231.5,458.5L234.6,460L237.6,460.6L237.3,461.8L235.5,461.9L234.1,461.1L232.9,461L230.9,461Z" fill="#fef0d9"/>
<path d="M204.9,364.8L206.2,366.6L206.7,368.5L208,369.6L207.5,372.1L209.1,375L210.4,378.6L211.9,378.3L212.3,378.9L211.8,381.6L209.5,382.9L210.2,387.3L209.8,388.1L210.6,389.1L209.3,390.7L208.3,393.2L207.9,395.6L208.6,398.1L207.7,400.8L209.7,405.3L210.4,405.7L210.9,408.1L210.3,410.7L210.9,412.9L209.7,414.6L210.3,417L211.6,419.5L210.6,420.4L210.7,422.7L211,425.4L212.3,428.5L211.7,429.1L213.1,432L214.4,433L214.1,434.1L215.2,434.6L215.8,435.6L215.1,436.1L215.8,437.6L216.3,440.9L216,443.1L216.7,444.4L216.7,446L215.6,447.1L216.8,449.8L217.9,450.7L219.2,450.6L219.9,452.4L221.4,453.9L226.3,454.2L228.2,454.6L226.5,454.6L225.8,455.2L224.4,456.1L225.1,458.4L224.3,458.5L221.8,457.7L218.8,456L215.7,454.5L214.3,452.9L214.2,451.5L212.5,449.8L210.5,445.5L210.4,443L211.8,441.1L208.4,440.3L209.5,438.1L208.7,433.8L211.3,434.7L210.6,429.4L208.9,428.7L209.4,431.9L207.9,431.6L207.3,427.9L206.6,423.1L207,421.3L205.7,418.8L204.7,415.9L205.6,415.8L205.8,411.6L206.3,407.4L206.3,403.5L205,399.6L205.2,397.5L204.4,394.2L205.1,391.1L204.8,386L204.8,380.6L204.8,374.8L204.2,370.5L203.3,366.8L204.4,366.2ZM228.5,455.5L230.9,461L232.9,461L234.1,461.1L233.9,462.1L232.6,462.8L231.7,462.7L230.4,462.5L228.7,461.8L226.5,461.4L223.5,460.1L220.8,458.7L216.9,456L218.7,456.5L222.2,458.2L225.2,459L225.7,457.9L225.6,456.2L226.9,455.2Z" fill="#fef0d9"/>
<path d="M351.9,225.8L353.2,226.9L355.3,226.7L357.5,227.3L358.4,227.3L359.3,229L359.4,230.6L360.1,233.3L360.7,233.9L360.3,234.9L357.4,235.3L356.4,236.3L355.1,236.5L355,238.4L352.4,239.5L351.6,240.8L349.7,241.5L347.5,241.9L343.9,243.8L343.8,246.9L333.8,246.9L335.1,245.9L337.1,245.6L338.9,243.8L340.1,243.1L342,241L341.5,237.7L342.4,235.5L342.7,234.1L344.2,232.3L346.4,231.1L348.1,230.1L349.6,227.4L350.3,225.8Z" fill="#fdd49e"/>
<path d="M324.6,264.3L325.1,263.4L333.9,263.4L333.6,259.6L334.2,258.3L336.3,258.1L336.4,251.4L343.7,251.5L343.8,247.6L352.1,253.9L348.7,253.9L349.6,265.2L350.6,276.4L351,276.8L350.5,278.6L341.4,278.6L341,279.2L340.1,279L338.8,279.6L337.3,278.8L336.5,278.9L336.1,280.4L335.4,280.9L333.9,279.1L332.5,277.2L331,276.5L329.9,275.7L328.7,275.7L327.6,276.3L326.4,276.1L325.6,276.9L325.5,275.5L326.1,274.2L326.5,271.8L326.3,269.2L326,267.9L326.3,266.6L325.7,265.4Z" fill="#fef0d9"/>
<path d="M343.8,247.6L343.8,246.9L343.9,243.8L347.5,241.9L349.7,241.5L351.6,240.8L352.4,239.5L355,238.4L355.1,236.5L356.4,236.3L357.4,235.3L360.3,234.9L360.7,233.9L360.1,233.3L359.4,230.6L359.3,229L358.4,227.3L360.5,225.9L362.9,225.4L364.2,224.4L366.3,223.6L370,223.1L373.5,222.9L374.6,223.3L376.6,222.3L378.9,222.2L379.8,222.8L381.3,222.7L380.9,224L381.3,226.5L380.9,228.6L379.6,230.1L379.8,232.1L381.6,233.6L381.7,234.2L383.1,235.3L384.1,240L384.9,242.3L385,243.5L384.7,245.6L384.9,246.8L384.6,248.2L384.9,249.9L384,251L385.4,252.9L385.5,254L386.3,255.4L387.3,255L389.1,256.2L390.2,257.8L382.5,262.8L376,267.9L372.8,269L370.3,269.3L370.3,267.7L369.2,267.2L367.8,266.5L367.3,265.3L359.7,259.6L352.1,253.9Z" fill="#fdd49e"/>
<path d="M384.1,240L383.1,235.3L381.7,234.2L381.6,233.6L379.8,232.1L379.6,230.1L380.9,228.6L381.3,226.5L380.9,224L381.3,222.7L383.6,221.6L385.1,222L385.1,223.3L386.9,222.3L387.1,222.8L386.1,224.1L386.1,225.3L386.9,225.9L386.7,228.2L385.3,229.5L385.7,230.9L386.9,231L387.5,232.2L388.3,232.6L388.2,234.6L387.2,235.4L386.6,236.2L385.1,237.2L385.3,238.3L385.2,239.4Z" fill="#fdd49e"/>
<path d="M419.6,261.6L419.8,266.9L417.2,266.9L417.2,268L408,262.9L398.8,258L396.6,259.4L395,260.4L393.7,258.9L390.2,257.8L389.1,256.2L387.3,255L386.3,255.4L385.5,254L385.4,252.9L384,251L384.9,249.9L384.6,248.2L384.9,246.8L384.7,245.6L385,243.5L384.9,242.3L384.1,240L385.2,239.4L385.3,238.3L385.1,237.2L386.6,236.2L387.2,235.4L388.2,234.6L388.3,232.6L390.9,233.5L391.8,233.3L393.7,233.7L396.6,234.9L397.8,237.2L399.8,237.7L402.9,238.8L405.4,240.1L406.4,239.4L407.4,238.2L406.8,236.2L407.4,234.9L408.9,233.7L410.4,233.4L413.4,233.9L414.2,235.1L415,235.1L415.8,235.5L418,235.8L418.5,236.7L417.8,237.9L418.3,239.1L417.8,240.7L418.6,242.8L419.1,251.2L419.3,256.4Z" fill="#fdd49e"/>
<path d="M419.6,261.6L419.3,256.4L419.1,251.2L418.6,242.8L417.8,240.7L418.3,239.1L417.8,237.9L418.5,236.7L421.5,236.6L423.7,237.3L425.9,238.1L427,238.5L428.6,237.7L429.4,237L431.4,236.7L433,237.1L433.7,238.4L434.1,237.5L435.9,238.1L437.7,238.3L438.7,237.6L440.6,242.1L440,243.1L439.7,245.1L439.2,246.5L438.7,246.9L437.9,246.1L436.8,244.9L434.9,241.2L434.7,241.4L435.9,244.2L437.5,246.8L439.4,250.9L440.4,252.3L441.2,253.7L443.4,256.6L443,257.1L443.2,258.8L445.9,261.1L446.3,261.6L437.6,261.6L428.6,261.6Z" fill="#fdd49e"/>
<path d="M446.3,261.6L447.2,264.2L446.7,264.7L447.2,267.4L448.2,270.5L449.1,271.1L450.4,272.1L449.3,273.6L447.7,274L447,274.8L446.9,276.5L446.1,280.4L446.4,281.4L446.1,283.6L445.2,286.2L443.9,287.5L443,289.5L442.8,290.6L441.7,291.3L441.1,294L441.1,294.3L440.8,294.3L440.8,293L440.5,292.1L439.3,291.1L439,289.2L439.2,287.2L438.1,287.1L438,287.7L436.6,287.8L437.2,288.5L437.4,290.1L436.2,291.5L435.1,293.4L433.9,293.7L432,292.2L431.1,292.7L430.9,293.5L429.7,294L429.7,294.5L427.4,294.5L427,294L425.4,293.9L424.6,294.3L423.9,294.1L422.7,292.6L422.3,291.9L420.7,292.2L420,293.4L419.5,295.7L418.7,296.2L418,296.5L417.8,296.4L417,295.7L416.9,294.8L417.2,293.8L417.2,292.7L415.9,291.1L415.6,290L415.6,289.3L414.7,288.5L414.7,287L414.2,286L413.4,286.2L413.6,285.2L414.2,284.1L413.9,283L414.6,282.3L414.1,281.6L414.7,280L415.6,278.1L417.6,278.3L417.2,268L417.2,266.9L419.8,266.9L419.6,261.6L428.6,261.6L437.6,261.6Z" fill="#fef0d9"/>
<path d="M417.2,268L417.6,278.3L415.6,278.1L414.7,280L414.1,281.6L414.6,282.3L413.9,283L414.2,284.1L413.6,285.2L413.4,286.2L414.2,286L414.7,287L414.7,288.5L415.6,289.3L415.6,290L414.1,290.4L413,291.4L411.4,294.3L409.2,295.5L407,295.4L406.4,295.6L406.6,296.5L405.4,297.4L404.4,298.4L401.6,299.4L401,298.8L400.6,298.8L400.2,299.4L398.3,299.7L398.6,299L397.9,297.2L397.6,296.1L396.5,295.6L395.2,294.1L395.7,292.9L396.7,293.1L397.4,293L398.7,293L397.4,290.6L397.4,288.9L397.2,287.1L396.3,285.5L396.5,284.2L395.1,284.2L395.1,282.5L394.1,281.5L395,278.1L397.9,275.6L397.9,272.3L398.7,267L399.1,265.8L398.2,265L398.1,264.1L397.3,263.4L396.6,259.4L398.8,258L408,262.9Z" fill="#fc8d59"/>
<path d="M396.6,259.4L397.3,263.4L398.1,264.1L398.2,265L399.1,265.8L398.7,267L397.9,272.3L397.9,275.6L395,278.1L394.1,281.5L395.1,282.5L395.1,284.2L396.5,284.2L396.3,285.5L395.7,285.6L395.6,286.5L395.2,286.5L393.6,283.6L393.1,283.5L391.3,285L389.5,284.2L388.3,284.1L387.6,284.5L386.3,284.4L384.9,285.5L383.8,285.6L381,284.2L379.9,284.8L378.8,284.8L377.9,283.8L375.6,282.8L373.1,283.2L372.5,283.7L372.2,285.2L371.6,286.3L371.4,288.6L369.7,287.1L368.9,287.1L368.1,287.9L368.1,286.1L365.5,285.5L365.4,284.2L364.1,282.5L363.8,281.4L364,280.1L365.5,280L366.3,279.1L369.4,278.8L371.5,278.4L371.6,276.8L372.9,275.1L372.8,269L376,267.9L382.5,262.8L390.2,257.8L393.7,258.9L395,260.4Z" fill="#fdd49e"/>
<path d="M335.4,280.9L336.1,280.4L336.5,278.9L337.3,278.8L338.8,279.6L340.1,279L341,279.2L341.4,278.6L350.5,278.6L351,276.8L350.6,276.4L349.6,265.2L348.7,253.9L352.1,253.9L359.7,259.6L367.3,265.3L367.8,266.5L369.2,267.2L370.3,267.7L370.3,269.3L372.8,269L372.9,275.1L371.6,276.8L371.5,278.4L369.4,278.8L366.3,279.1L365.5,280L364,280.1L362.5,280.1L362,279.6L360.7,280L358.6,281L358.1,281.8L356.4,283L356.1,283.7L355.1,284.2L354,283.9L353.4,284.5L353,286.3L351.2,288.5L351.2,289.3L350.6,290.5L350.8,292L349.8,292.4L349.3,292.7L348.9,291.6L348.3,291.9L347.8,291.8L347.4,292.6L345.7,292.5L345,292.1L344.7,292.4L344,291.7L344.2,290.9L343.9,290.6L343.4,290.8L343.5,290L343.9,289.3L343,288.2L342.7,287.5L342.2,286.9L341.8,286.9L341.2,287.2L340.5,287.6L339.9,288.1L338.9,287.9L338.3,287.2L337.9,287.2L337.3,287.5L336.9,287.5L336.8,286.6L336.9,285.8L336.7,284.7L335.9,284L335.5,282.5Z" fill="#fdbb84"/>
<path d="M324.9,283.6L324,281.5L322.9,280.6L323.9,280.1L325.1,278.3L325.6,276.9L326.4,276.1L327.6,276.3L328.7,275.7L329.9,275.7L331,276.5L332.5,277.2L333.9,279.1L335.4,280.9L335.5,282.5L335.9,284L336.7,284.7L336.9,285.8L336.8,286.6L336.5,286.7L335.2,286.5L335,286.8L334.5,286.9L332.9,286.2L331.8,286.2L327.6,286.1L326.9,286.4L326.2,286.3L325,286.7L324.6,284.7L326.7,284.8L327.3,284.4L327.7,284.4L328.5,283.8L329.5,284.3L330.5,284.4L331.5,283.8L331,283L330.3,283.5L329.6,283.5L328.7,282.8L327.9,282.9L327.4,283.5Z" fill="#fdbb84"/>
<path d="M324.6,284.7L326.7,284.8L327.3,284.4L327.7,284.4L328.5,283.8L329.5,284.3L330.5,284.4L331.5,283.8L331,283L330.3,283.5L329.6,283.5L328.7,282.8L327.9,282.9L327.4,283.5L324.9,283.6Z" fill="#fc8d59"/>
<path d="M328.5,290.2L327.3,289.1L326.3,289L325.8,288.2L325.8,287.8L325.1,287.3L325,286.7L326.2,286.3L326.9,286.4L327.6,286.1L331.8,286.2L331.7,287.1L331.5,287.3L331.7,288.2L331.3,288.5L330.8,288.5L330.2,289L329.5,288.9Z" fill="#fdbb84"/>
<path d="M331.8,286.2L332.9,286.2L334.5,286.9L335,286.8L335.2,286.5L336.5,286.7L336.8,286.6L336.9,287.5L337.3,287.5L337.9,287.2L338.3,287.2L338.9,287.9L339.9,288.1L340.5,287.6L341.2,287.2L341.8,286.9L342.2,286.9L342.7,287.5L343,288.2L343.9,289.3L343.5,290L343.4,290.8L343.9,290.6L344.2,290.9L344,291.7L344.7,292.4L344.3,292.6L344.1,293.5L344.6,294.5L345.2,296.6L344.3,296.9L344.1,297.3L344.3,297.8L344.1,299L343.7,299L343.1,298.9L342.6,299.9L342,299.9L341.5,299.4L341.7,298.3L340.7,296.7L340.1,297L339.6,297.1L339,297.2L339.1,296.3L338.7,295.6L338.8,294.8L338.3,293.7L337.6,292.8L335.8,292.8L335.3,293.3L334.6,293.3L334.2,293.9L334,294.6L332.7,295.8L331.7,294.3L330.9,293.2L330.3,292.9L329.7,292.4L329.5,291.2L329.1,290.6L328.5,290.2L329.5,288.9L330.2,289L330.8,288.5L331.3,288.5L331.7,288.2L331.5,287.3L331.7,287.1Z" fill="#fdd49e"/>
<path d="M332.7,295.8L334,294.6L334.2,293.9L334.6,293.3L335.3,293.3L335.8,292.8L337.6,292.8L338.3,293.7L338.8,294.8L338.7,295.6L339.1,296.3L339,297.2L339.6,297.1L338.6,298.3L337.5,299.7L337.4,300.5L336.8,301.3L336.2,301.1L334.6,300.1L333.4,298.7Z" fill="#fdbb84"/>
<path d="M343.7,299L343.6,299.7L343.9,301L343.4,302.1L344,302.9L344.8,303L345.7,304.1L345.8,305.2L345.6,305.5L345.4,307.6L344.8,307.6L342.4,306.4L340.3,304.4L338.4,303L336.8,301.3L337.4,300.5L337.5,299.7L338.6,298.3L339.6,297.1L340.1,297L340.7,296.7L341.7,298.3L341.5,299.4L342,299.9L342.6,299.9L343.1,298.9Z" fill="#fc8d59"/>
<path d="M344.7,292.4L345,292.1L345.7,292.5L347.4,292.6L347.8,291.8L348.3,291.9L348.9,291.6L349.3,292.7L349.8,292.4L350.8,292L351.8,292.5L352.2,293.4L353.2,293.9L354,293.3L355.1,293.2L356.7,293.9L357.3,297.6L356.3,299.8L355.7,302.7L356.7,304.9L356.6,306L355.5,306L353.9,305.5L352.4,305.5L349.7,306L348.1,306.7L345.8,307.7L345.4,307.6L345.6,305.5L345.8,305.2L345.7,304.1L344.8,303L344,302.9L343.4,302.1L343.9,301L343.6,299.7L343.7,299L344.1,299L344.3,297.8L344.1,297.3L344.3,296.9L345.2,296.6L344.6,294.5L344.1,293.5L344.3,292.6Z" fill="#fc8d59"/>
<path d="M350.8,292L350.6,290.5L351.2,289.3L351.2,288.5L353,286.3L353.4,284.5L354,283.9L355.1,284.2L356.1,283.7L356.4,283L358.1,281.8L358.6,281L360.7,280L362,279.6L362.5,280.1L364,280.1L363.8,281.4L364.1,282.5L365.4,284.2L365.5,285.5L368.1,286.1L368.1,287.9L367.6,288.7L366.5,288.9L366,290L365.2,290.3L363.2,290.3L362.1,290.1L361.4,290.5L360.4,290.3L356.4,290.4L356.4,291.9L356.7,293.9L355.1,293.2L354,293.3L353.2,293.9L352.2,293.4L351.8,292.5Z" fill="#fc8d59"/>
<path d="M365.6,303.5L362,305.1L360.7,306L358.6,306.7L356.6,306L356.7,304.9L355.7,302.7L356.3,299.8L357.3,297.6L356.7,293.9L356.4,291.9L356.4,290.4L360.4,290.3L361.4,290.5L362.1,290.1L363.2,290.3L363,291.1L364,292.4L364,294.3L364.2,296.4L364.8,297.3L364.3,299.7L364.5,301L365.1,302.6Z" fill="#fdbb84"/>
<path d="M367.5,303L365.6,303.5L365.1,302.6L364.5,301L364.3,299.7L364.8,297.3L364.2,296.4L364,294.3L364,292.4L363,291.1L363.2,290.3L365.2,290.3L364.9,291.7L365.6,292.5L366.4,293.4L366.5,294.7L367,295.2L366.9,301.2Z" fill="#fdd49e"/>
<path d="M369.3,302.7L367.5,303L366.9,301.2L367,295.2L366.5,294.7L366.4,293.4L365.6,292.5L364.9,291.7L365.2,290.3L366,290L366.5,288.9L367.6,288.7L368.1,287.9L368.9,287.1L369.7,287.1L371.4,288.6L371.3,289.5L371.9,291L371.4,292.1L371.7,292.8L370.5,294.4L369.8,295.2L369.4,296.8L369.5,298.5Z" fill="#fdd49e"/>
<path d="M369.3,302.7L369.5,298.5L369.4,296.8L369.8,295.2L370.5,294.4L371.7,292.8L371.4,292.1L371.9,291L371.3,289.5L371.4,288.6L371.6,286.3L372.2,285.2L372.5,283.7L373.1,283.2L375.6,282.8L377.9,283.8L378.8,284.8L379.9,284.8L381,284.2L383.8,285.6L384.9,285.5L386.3,284.4L387.6,284.5L388.3,284.1L389.5,284.2L391.3,285L393.1,283.5L393.6,283.6L395.2,286.5L395.6,286.5L396.5,287.5L396.3,288L396.2,288.8L394.3,290.8L393.7,292.5L393.4,293.9L392.9,294.4L392.4,296.3L391.2,297.3L390.9,298.7L390.4,299.7L390.2,300.8L388.6,301.7L387.3,300.6L386.4,300.6L385.1,302.2L384.4,302.2L383.3,304.7L382.7,306.6L380.3,307.5L379.5,307.4L378.6,307.9L376.7,307.9L375.5,306.3L374.7,304.4L373.1,302.7L371.4,302.7Z" fill="#fdbb84"/>
<path d="M396.3,285.5L397.2,287.1L397.4,288.9L397.4,290.6L398.7,293L397.4,293L396.7,293.1L395.7,292.9L395.2,294.1L396.5,295.6L397.6,296.1L397.9,297.2L398.6,299L398.3,299.7L397.2,302.3L396.6,302.8L396.4,304.8L396.7,305.9L396.5,306.7L397.6,308L397.8,309L398.7,310.3L399.7,311.2L399.8,312.3L400.1,313.1L399.9,314.5L398.1,313.9L396.2,313.2L393.3,313.1L393,313L391.6,313.3L390.2,312.9L389.1,313.1L385.4,313.1L385.7,311L384.8,309.3L383.8,308.8L383.3,307.7L382.7,307.3L382.7,306.6L383.3,304.7L384.4,302.2L385.1,302.2L386.4,300.6L387.3,300.6L388.6,301.7L390.2,300.8L390.4,299.7L390.9,298.7L391.2,297.3L392.4,296.3L392.9,294.4L393.4,293.9L393.7,292.5L394.3,290.8L396.2,288.8L396.3,288L396.5,287.5L395.6,286.5L395.7,285.6Z" fill="#fc8d59"/>
<path d="M398.3,299.7L400.2,299.4L400.6,298.8L401,298.8L401.6,299.4L404.4,298.4L405.4,297.4L406.6,296.5L406.4,295.6L407,295.4L409.2,295.5L411.4,294.3L413,291.4L414.1,290.4L415.6,290L415.9,291.1L417.2,292.7L417.2,293.8L416.9,294.8L417,295.7L417.8,296.4L418,296.5L419.6,297.5L420.9,298.6L420.9,299.4L422.5,300.8L423.4,301.9L424.1,303.5L425.8,304.5L426.2,305.4L425.4,305.6L423.9,305.6L422.2,305.3L421.3,305.5L421,306.1L420.3,306.2L419.3,305.7L416.8,307L415.7,306.7L415.4,306.9L414.8,308.5L413,308L411.4,307.7L409.9,306.8L408,305.9L406.7,306.7L405.9,308.1L405.7,309.9L404.2,309.7L402.6,309.3L401.3,310.7L400.1,313.1L399.8,312.3L399.7,311.2L398.7,310.3L397.8,309L397.6,308L396.5,306.7L396.7,305.9L396.4,304.8L396.6,302.8L397.2,302.3Z" fill="#fdd49e"/>
<path d="M385.4,313.1L389.1,313.1L389.2,316.2L385.8,316.2L385,316.4L384.6,316Z" fill="#fdbb84"/>
<path d="M389.1,313.1L390.2,312.9L391.6,313.3L393,313L393.3,313.1L393.1,314.2L393.8,315.6L395.5,315.4L396.1,315.9L395.1,318.9L396.2,320.4L396.4,322.5L396.1,324.2L395.4,325.4L393.4,325.3L392.1,324.1L392,325.2L390.4,325.5L389.6,326.2L390.5,327.9L388.7,329.4L386.4,326.7L384.8,324.6L383.4,321.9L383.5,321L384,320.2L384.6,318.3L385,316.4L385.8,316.2L389.2,316.2Z" fill="#fdd49e"/>
<path d="M393.1,331.5L392.2,330.6L391.5,331L390.6,332.1L388.7,329.4L390.5,327.9L389.6,326.2L390.4,325.5L392,325.2L392.1,324.1L393.4,325.3L395.4,325.4L396.1,324.2L396.4,322.5L396.2,320.4L395.1,318.9L396.1,315.9L395.5,315.4L393.8,315.6L393.1,314.2L393.3,313.1L396.2,313.2L398.1,313.9L399.9,314.5L400.1,313.1L401.3,310.7L402.6,309.3L404.2,309.7L405.7,309.9L405.5,311.4L404.8,312.8L404.4,314.5L404.1,316.8L404.3,318.2L403.9,319.2L403.8,320.1L403.5,320.9L402,322.2L401,323.5L400,326.1L400,328.2L399.4,329.1L398.1,330.3L396.7,332L395.9,331.5L395.7,330.8L394.5,330.7L393.7,331.7Z" fill="#fdbb84"/>
<path d="M434.2,309.8L434.1,312.9L435,313.3L434.3,314.2L433.4,314.9L432.5,316.2L432,317.4L431.9,319.5L431.4,320.5L431.3,322.5L430.7,323.2L430.6,324.8L430.3,325L430,326.4L430.6,327.6L430.7,330.7L431.1,333.1L430.9,334.5L431.3,336L432.6,337.5L433.8,340.7L432.9,340.5L429.8,340.9L429.2,341.2L428.5,342.9L429,344.1L428.5,347.1L428.1,349.7L428.8,350.2L430.3,351.2L431,350.8L431.1,353.6L429.3,353.5L428.4,352.1L427.6,351L425.9,350.6L425.4,349.3L424,350.1L422.1,349.7L421.4,348.5L420,348.3L418.9,348.4L418.8,347.5L418,347.5L416.9,347.3L415.5,347.7L414.5,347.7L414,347.9L414.1,344.8L413.4,343.8L413.2,342.2L413.6,340.7L413.1,339.6L413.1,338L410.3,338L410.5,337.1L409.4,337.1L409.2,337.6L407.8,337.7L407.2,339.2L406.9,339.8L405.6,339.5L404.8,339.8L403.3,340L402.4,338.7L401.9,337.8L401.3,336.3L400.7,334.3L393.9,334.3L393.1,334.6L392.5,334.6L391.5,334.9L391.2,334.1L391.8,333.8L391.9,332.7L392.2,332L393.1,331.5L393.7,331.7L394.5,330.7L395.7,330.8L395.9,331.5L396.7,332L398.1,330.3L399.4,329.1L400,328.2L400,326.1L401,323.5L402,322.2L403.5,320.9L403.8,320.1L403.9,319.2L404.3,318.2L404.1,316.8L404.4,314.5L404.8,312.8L405.5,311.4L405.7,309.9L405.9,308.1L406.7,306.7L408,305.9L409.9,306.8L411.4,307.7L413,308L414.8,308.5L415.4,306.9L415.7,306.7L416.8,307L419.3,305.7L420.3,306.2L421,306.1L421.3,305.5L422.2,305.3L423.9,305.6L425.4,305.6L426.2,305.4L427.6,307.5L428.6,307.8L429.2,307.4L430.3,307.6L431.6,307L432.1,308.1Z" fill="#b30000"/>
<path d="M400.7,334.3L401.3,336.3L401.9,337.8L402.4,338.7L403.3,340L404.8,339.8L405.6,339.5L406.9,339.8L407.2,339.2L407.8,337.7L409.2,337.6L409.4,337.1L410.5,337.1L410.3,338L413.1,338L413.1,339.6L413.6,340.7L413.2,342.2L413.4,343.8L414.1,344.8L414,347.9L414.5,347.7L415.5,347.7L416.9,347.3L418,347.5L418.2,348.3L417.9,349.6L418.3,350.8L417.9,351.8L418.1,352.7L413.3,352.6L413,360.9L414.5,363.1L416,364.7L411.7,365.7L406.2,365.4L404.7,364.1L395.5,364.2L395.1,364.4L393.8,363.2L392.3,363.2L391,363.6L389.8,364.1L389.7,362.5L390,360.2L390.8,357.8L391,356.7L391.7,354.3L392.3,353.3L393.6,351.5L394.4,350.4L394.6,348.5L394.5,347L393.9,346L393.3,344.5L392.7,342.9L392.8,342.4L393.6,341.3L392.9,338.8L392.4,337.1L391.3,335.4L391.5,334.9L392.5,334.6L393.1,334.6L393.9,334.3ZM391.8,333.8L391.2,334.1L390.6,332.1L391.5,331L392.2,330.6L393.1,331.5L392.2,332L391.9,332.7Z" fill="#fdbb84"/>
<path d="M438.4,343.1L439.4,344.2L440,346.5L439.6,347.2L439,349.3L439.4,351.4L438.7,352.3L437.9,354.7L439,355.4L432.1,357.6L432.2,359.4L430.5,359.8L429.1,360.8L428.8,361.7L428,361.9L425.9,364.1L424.6,365.8L423.8,365.8L423.1,365.5L420.6,365.2L420.2,365L420.2,364.8L419.3,364.2L417.8,364.1L416,364.7L414.5,363.1L413,360.9L413.3,352.6L418.1,352.7L417.9,351.8L418.3,350.8L417.9,349.6L418.2,348.3L418,347.5L418.8,347.5L418.9,348.4L420,348.3L421.4,348.5L422.1,349.7L424,350.1L425.4,349.3L425.9,350.6L427.6,351L428.4,352.1L429.3,353.5L431.1,353.6L431,350.8L430.3,351.2L428.8,350.2L428.1,349.7L428.5,347.1L429,344.1L428.5,342.9L429.2,341.2L429.8,340.9L432.9,340.5L433.8,340.7L434.7,341.4L435.6,341.8L437.1,342.3Z" fill="#e34a33"/>
<path d="M442.3,349L441.6,351L442.2,354.4L443,354.4L443.8,355.2L444.7,357.1L444.7,360.5L443.7,361L442.9,362.8L441.5,361.2L441.4,359.4L441.9,358.1L441.8,357.1L441,356.4L440.3,356.7L439,355.4L437.9,354.7L438.7,352.3L439.4,351.4L439,349.3L439.6,347.2L440,346.5L439.4,344.2L438.4,343.1L440.6,343.6L441.1,344.3L441.8,345.5Z" fill="#e34a33"/>
<path d="M442.3,349L444.1,348.8L446.8,349.6L447.4,349.2L449,349.2L449.9,348.4L451.2,348.4L453.8,347.4L455.7,345.9L456,347.1L455.8,349.7L456,352L455.9,356L456.3,357.3L455.5,359.2L454.5,361L453,362.6L450.9,363.6L448.2,364.9L445.5,367.6L444.6,368.1L442.9,370L442,370.6L441.7,372.4L442.6,374.4L443,375.9L443,376.7L443.4,376.6L443.2,379.1L442.7,380.4L443.2,380.8L442.8,381.9L441.8,382.8L439.9,383.7L437.1,385.1L436.1,386.1L436.2,387.2L436.8,387.4L436.5,388.7L434.8,388.7L434.7,387.5L434.4,386.4L434.3,385.4L434.9,382.5L434.4,380.7L433.5,377L436,374.1L436.7,372.2L437.1,371.9L437.4,370.4L437.1,369.6L437.3,367.7L437.8,365.9L437.9,362.6L436.8,361.7L435.7,361.5L435.3,360.9L434.2,360.3L432.3,360.4L432.2,359.4L432.1,357.6L439,355.4L440.3,356.7L441,356.4L441.8,357.1L441.9,358.1L441.4,359.4L441.5,361.2L442.9,362.8L443.7,361L444.7,360.5L444.7,357.1L443.8,355.2L443,354.4L442.2,354.4L441.6,351Z" fill="#fc8d59"/>
<path d="M433.5,377L432.3,376.7L431.5,377.1L430.5,376.6L429.5,376.6L428.2,375.4L426.4,375L425.8,373.4L425.9,372.4L424.9,372.2L422.5,369.3L421.8,367.8L421.4,367.3L420.6,365.2L423.1,365.5L423.8,365.8L424.6,365.8L425.9,364.1L428,361.9L428.8,361.7L429.1,360.8L430.5,359.8L432.2,359.4L432.3,360.4L434.2,360.3L435.3,360.9L435.7,361.5L436.8,361.7L437.9,362.6L437.8,365.9L437.3,367.7L437.1,369.6L437.4,370.4L437.1,371.9L436.7,372.2L436,374.1Z" fill="#e34a33"/>
<path d="M441.3,321.5L441.7,321.8L450,327.1L450.2,328.6L453.4,331.2L452.3,334.4L452.4,335.9L453.9,336.8L453.9,337.5L453.2,339.1L453.4,339.9L453.2,341.1L454,342.8L454.8,345.3L455.7,345.9L453.8,347.4L451.2,348.4L449.9,348.4L449,349.2L447.4,349.2L446.8,349.6L444.1,348.8L442.3,349L441.8,345.5L441.1,344.3L440.6,343.6L438.4,343.1L437.1,342.3L435.6,341.8L434.7,341.4L433.8,340.7L432.6,337.5L431.3,336L430.9,334.5L431.1,333.1L430.7,330.7L431.7,330.6L432.5,329.7L433.4,328.3L434,327.8L434,326.9L433.5,326.3L433.4,325.3L434,325L434.2,323.4L433.3,321.9L434.1,321.6L436.6,321.7Z" fill="#fc8d59"/>
<path d="M457.6,321.2L459,323.4L457.4,324.4L456.8,325.5L455.9,325.7L455.6,327.6L454.8,328.6L454.4,330.3L453.4,331.2L450.2,328.6L450,327.1L441.7,321.8L441.3,321.5L441.3,318.7L442,317.6L443.1,315.9L443.9,314L442.9,311L442.6,309.7L441.5,307.9L442.9,306.4L444.4,304.6L445.6,305.1L445.6,306.5L446.4,307.4L448,307.4L451,309.6L451.7,309.6L452.2,309.6L452.7,309.9L454.3,310.1L454.9,309L457,307.9L458,308.8L459.6,308.8L457.6,311.8Z" fill="#fdbb84"/>
<path d="M436.6,321.7L434.1,321.6L433.3,321.9L431.9,322.8L431.3,322.5L431.4,320.5L431.9,319.5L432,317.4L432.5,316.2L433.4,314.9L434.3,314.2L435,313.3L434.1,312.9L434.2,309.8L435.1,309.1L436.6,309.7L438.5,309.1L440.1,309.1L441.5,307.9L442.6,309.7L442.9,311L443.9,314L443.1,315.9L442,317.6L441.3,318.7L441.3,321.5Z" fill="#fdbb84"/>
<path d="M433.3,321.9L434.2,323.4L434,325L433.4,325.3L432.2,325.1L431.4,326.6L430,326.4L430.3,325L430.6,324.8L430.7,323.2L431.3,322.5L431.9,322.8Z" fill="#fdbb84"/>
<path d="M430.7,330.7L430.6,327.6L430,326.4L431.4,326.6L432.2,325.1L433.4,325.3L433.5,326.3L434,326.9L434,327.8L433.4,328.3L432.5,329.7L431.7,330.6Z" fill="#fc8d59"/>
<path d="M449.7,280L451.1,281.2L452.4,280.6L453,281.1L454.6,281.1L456.6,282.2L457.2,283.1L458.3,283.9L459.3,285.4L460.1,286.3L459.3,287.5L458.6,288.7L458.8,289.4L458.9,290.2L460.2,290.2L460.7,290L461.2,290.5L460.8,291.4L461.7,292.9L462.6,294.1L463.5,295.1L471.1,298.1L473,298.1L466.7,306L463.7,306.1L461.7,307.9L460.2,308L459.6,308.8L458,308.8L457,307.9L454.9,309L454.3,310.1L452.7,309.9L452.2,309.6L451.7,309.6L451,309.6L448,307.4L446.4,307.4L445.6,306.5L445.6,305.1L444.4,304.6L443,301.8L441.9,301.2L441.5,300.2L440.3,298.9L438.9,298.7L439.6,297.2L440.9,297.2L441.2,296.4L441.1,294L441.7,291.3L442.8,290.6L443,289.5L443.9,287.5L445.2,286.2L446.1,283.6L446.4,281.4L449,282Z" fill="#fdd49e"/>
<path d="M460.1,286.3L459.3,285.4L458.3,283.9L457.2,283.1L456.6,282.2L454.6,281.1L453,281.1L452.4,280.6L451.1,281.2L449.7,280L449,282L446.4,281.4L446.1,280.4L446.9,276.5L447,274.8L447.7,274L449.3,273.6L450.4,272.1L451.9,275.1L452.7,277.5L454,278.7L457.2,281.2L458.5,282.7L459.9,284.2L460.6,285.1L461.8,285.9L461.1,286.5Z" fill="#fdd49e"/>
<path d="M461.8,285.9L462.3,286.7L462.3,287.8L461,288.4L462,289.1L461.2,290.5L460.7,290L460.2,290.2L458.9,290.2L458.8,289.4L458.6,288.7L459.3,287.5L460.1,286.3L461.1,286.5Z" fill="#fdd49e"/>
<path d="M459,323.4L457.6,321.2L457.6,311.8L459.6,308.8L460.2,308L461.7,307.9L463.7,306.1L466.7,306L473,298.1L471.1,298.1L463.5,295.1L462.6,294.1L461.7,292.9L460.8,291.4L461.2,290.5L462,289.1L462.8,289.6L463.3,290.7L464.4,291.8L465.5,291.8L467.6,291.1L470.1,290.8L472.1,290L473.2,289.8L474,289.3L475.3,289.3L476.1,289.2L477.1,288.8L478.3,288.5L479.3,287.7L480.2,287.7L480.3,288.4L480.2,289.9L480.2,291.3L479.8,292.2L479.2,295L478.2,297.9L476.9,301.3L475,305.1L473.1,308L470.4,311.5L468.2,313.7L464.7,316.3L462.6,318.2L460.1,321.4Z" fill="#fdbb84"/>
<path d="M399.5,393.5L397.9,391.5L397.1,389.6L396.7,387.1L396.2,385.2L395.5,381.2L395.6,378.1L395.3,376.6L394.5,375.6L393.3,373.4L392.2,370.3L391.8,368.7L389.9,366.1L389.8,364.1L391,363.6L392.3,363.2L393.8,363.2L395.1,364.4L395.5,364.2L404.7,364.1L406.2,365.4L411.7,365.7L416,364.7L417.8,364.1L419.3,364.2L420.2,364.8L420.2,365L418.9,365.6L418.2,365.6L416.7,366.7L415.9,365.6L412.4,366.5L410.6,366.6L410.3,375.9L408.1,376L407.8,383.6L407.4,393.2L405.3,394.5L404.1,394.7L402.8,394.2L401.8,394L401.4,392.9L400.6,392.2Z" fill="#fdbb84"/>
<path d="M421.4,367.3L421.8,367.8L422.5,369.3L424.9,372.2L425.9,372.4L425.8,373.4L426.4,375L428.2,375.4L429.5,376.6L426.3,378.5L424.2,380.4L423.3,382.2L422.6,383.2L421.4,383.4L420.9,384.6L420.6,385.5L419.2,386.1L417.4,385.9L416.3,385.2L415.4,384.9L414.3,385.5L413.7,386.7L412.6,387.5L411.4,388.7L409.8,388.9L409.4,388L409.6,386.4L408.4,384L407.8,383.6L408.1,376L410.3,375.9L410.6,366.6L412.4,366.5L415.9,365.6L416.7,366.7L418.2,365.6L418.9,365.6L420.2,365L420.6,365.2Z" fill="#fc8d59"/>
<path d="M399.5,393.5L400.6,392.2L401.4,392.9L401.8,394L402.8,394.2L404.1,394.7L405.3,394.5L407.4,393.2L407.8,383.6L408.4,384L409.6,386.4L409.4,388L409.8,388.9L411.4,388.7L412.6,387.5L413.7,386.7L414.3,385.5L415.4,384.9L416.3,385.2L417.4,385.9L419.2,386.1L420.6,385.5L420.9,384.6L421.4,383.4L422.6,383.2L423.3,382.2L424.2,380.4L426.3,378.5L429.5,376.6L430.5,376.6L431.5,377.1L432.3,376.7L433.5,377L434.4,380.7L434.9,382.5L434.3,385.4L434.4,386.4L433.3,385.9L432.7,386.1L432.4,386.8L431.7,387.8L431.7,388.7L432.9,390.1L434.3,389.9L434.8,388.7L436.5,388.7L435.8,390.6L435.4,392.8L434.7,394L433.1,395.3L432.6,395.6L431.6,397L430.8,398.3L429.4,400.2L426.7,402.9L425,404.4L423.3,405.6L420.9,406.6L419.8,406.8L419.4,407.5L418.1,407.1L417,407.6L414.7,407.1L413.3,407.4L412.4,407.3L410.1,408.3L408.2,408.7L406.8,409.7L405.8,409.8L404.9,408.8L404.2,408.8L403.3,407.6L403.2,408L403,407.3L403.1,405.8L402.5,404L403.2,403.5L403.3,401.5L401.9,399.1L400.9,396.9Z" fill="#fdd49e"/>
<path d="M427.5,394.5L428.2,395.3L427.4,396.5L427,397.4L425.7,397.8L425.3,398.6L424.4,398.9L422.9,396.9L424.2,395.2L425.5,394.2L426.6,393.7Z" fill="#fc8d59"/>
<path d="M434.8,388.7L434.3,389.9L432.9,390.1L431.7,388.7L431.7,387.8L432.4,386.8L432.7,386.1L433.3,385.9L434.4,386.4L434.7,387.5Z" fill="#fdbb84"/>
<path d="M476.6,351.5L477.1,352.6L477.6,354.4L477.8,357.5L478.3,358.7L478,360L477.6,360.7L476.9,359.2L476.4,360L476.7,361.9L476.4,363L475.8,363.6L475.5,365.8L474.4,368.8L473,372.4L471.2,377.4L470.1,381L468.8,384L466.9,384.6L464.9,385.7L463.6,385.1L461.9,384.2L461.4,382.8L461.5,380.4L460.8,378.4L460.7,376.5L461.3,374.6L462.3,374.2L462.4,373.3L463.6,371.3L463.9,369.7L463.5,368.4L463.2,366.8L463.1,364.4L464,362.9L464.4,361.3L465.6,361.2L466.9,360.6L467.7,360.2L468.7,360.1L470.1,358.7L472.1,357L472.9,355.7L472.6,354.6L473.5,354.9L474.9,353.1L475,351.6L475.8,350.4Z" fill="#fdd49e"/>
<path d="M338.1,149.5L337.6,151L339.3,152.5L336.9,154.3L331.6,155.9L330,156.3L327.7,156L322.9,155.2L324.8,154.2L321.1,153.1L324.3,152.7L324.4,152L320.8,151.4L322.3,150L325,149.6L327.4,151.2L330.2,149.9L332.3,150.6L335.3,149.4Z" fill="#fef0d9"/>
<path d="M351.1,179.5L351.4,181.3L349.8,183.5L346.2,185L343.4,184.6L345.2,182L344.3,179.5L347.1,177.5L348.6,176.4L348.9,177.7L348.5,179L349.7,179Z" fill="#fef0d9"/>
<path d="M357.5,167.8L355.5,170.5L357.4,170.1L359.5,170.1L358.9,172.1L357.2,174.3L359.2,174.4L361,177.6L362.3,178L363.5,180.8L364.1,181.8L366.4,182.3L366.2,183.9L365.2,184.6L366,185.9L364.2,187.2L361.6,187.2L358.2,187.9L357.3,187.4L355.9,188.6L354.1,188.3L352.6,189.3L351.6,188.7L354.6,186.1L356.4,185.6L353.3,185.2L352.8,184.2L354.8,183.4L353.8,182L354.2,180.4L357.1,180.6L357.4,179.2L356.1,177.6L353.8,177.2L353.4,176.5L354.1,175.4L353.5,174.8L352.4,175.9L352.4,173.5L351.5,172.3L352.3,169.8L353.8,167.8L355.3,168ZM352.2,177.8L351.1,179.5L349.7,179L348.5,179L348.9,177.7L348.6,176.4L350.2,176.3Z" fill="#fef0d9"/>
<path d="M344.2,209.9L344.9,209.3L345.8,208.9L346.3,210.1L347.5,210.1L347.9,209.8L349.1,209.9L349.7,211.2L348.7,211.9L348.6,213.9L348.2,214.3L348.1,215.5L347.2,215.7L348,217.3L347.4,219L348.1,219.7L347.8,220.5L346.9,221.4L347.1,222.3L346.2,223L345.1,222.6L344,222.9L344.3,220.9L344.2,219.2L343.3,219L342.8,218L343,216.3L343.9,215.4L344.1,214.3L344.6,212.8L344.6,211.7L344.2,210.8Z" fill="#fef0d9"/>
<path d="M344.2,209.9L344.3,208.1L343.5,206.9L346.5,205.1L349.1,205.5L351.9,205.5L354.1,206L355.8,205.8L359.2,205.9L360,206.9L363.9,208.1L364.6,207.5L367,208.7L369.4,208.4L369.5,209.9L367.6,211.6L364.9,212.1L364.7,213L363.4,214.4L362.6,216.5L363.4,218L362.1,219.2L361.7,220.9L360.1,221.4L358.5,223.4L355.8,223.4L353.7,223.4L352.3,224.3L351.5,225.3L350.4,225.1L349.7,224.2L349.1,222.7L347.1,222.3L346.9,221.4L347.8,220.5L348.1,219.7L347.4,219L348,217.3L347.2,215.7L348.1,215.5L348.2,214.3L348.6,213.9L348.7,211.9L349.7,211.2L349.1,209.9L347.9,209.8L347.5,210.1L346.3,210.1L345.8,208.9L344.9,209.3Z" fill="#fef0d9"/>
<path d="M353.9,192.5L356.5,191.9L359.9,192.6L359.3,189.7L361.2,190.8L365.8,188.8L366.4,186.8L368.1,186.3L368.4,187.1L369.4,187.2L370.3,188.2L371.7,189.4L372.8,189.2L374.5,190.3L375,190.6L375.6,190.5L376.5,191.2L379.5,191.6L378.5,193.4L378.3,195.2L377.8,195.6L376.9,195.4L376.9,196L375.5,197.4L375.5,198.6L376.5,198.2L377.2,199.3L377.1,200.1L377.8,201L377.1,201.8L377.7,203.8L378.8,204.1L378.6,205.2L376.8,206.7L372.7,206L369.6,206.8L369.4,208.4L367,208.7L364.6,207.5L363.9,208.1L360,206.9L359.2,205.9L360.3,204.4L360.7,199.3L358.6,196.6L357.1,195.3L354,194.3ZM383.2,209.2L382.6,211.2L381.7,210.7L381.1,208.9L381.5,208L382.8,207Z" fill="#fef0d9"/>
<path d="M368.1,186.3L369.7,185.8L371.2,186L373,185.4L374.3,186.5L375.4,187.1L375.2,188.8L374.7,188.9L374.5,190.3L372.8,189.2L371.7,189.4L370.3,188.2L369.4,187.2L368.4,187.1Z" fill="#fef0d9"/>
<path d="M375,180.4L376.6,180.4L377,181.3L376.6,183.6L376.2,184.5L375,184.5L375.4,187.1L374.3,186.5L373,185.4L371.2,186L369.7,185.8L370.7,185.1L372.4,181.4Z" fill="#fef0d9"/>
<path d="M375.2,188.8L375.6,189.4L375.6,190.5L375,190.6L374.5,190.3L374.7,188.9Z" fill="#fef0d9"/>
<path d="M382.3,176.7L382.3,177.7L384.3,178.3L384.4,179.1L386.3,178.7L387.4,178L389.6,179L390.6,179.8L391.2,181L390.7,181.7L391.5,182.6L392.1,183.9L392,184.8L393,186.4L392.1,186.6L391.6,186.3L391.1,186.8L389.7,187.3L389,187.9L387.6,188.5L388,189.2L388.3,190.3L389.3,190.9L390.6,192L389.9,193.2L389.2,193.5L389.6,195.1L389.5,195.6L388.8,195.1L387.8,195L386.4,195.4L384.6,195.3L384.3,196L383.3,195.3L382.7,195.4L380.4,194.6L380.1,195.2L378.3,195.2L378.5,193.4L379.5,191.6L376.5,191.2L375.6,190.5L375.6,189.4L375.2,188.8L375.4,187.1L375,184.5L376.2,184.5L376.6,183.6L377,181.3L376.6,180.4L377,179.9L378.6,179.8L379,180.3L380.2,179.1L379.7,178.2L379.6,176.8L381,177.1Z" fill="#fef0d9"/>
<path d="M382.3,176.7L381,177.1L379.6,176.8L378.7,175.4L378.5,172.9L378.8,172.3L379.3,171.5L381,171.4L381.6,170.7L383,170L383.1,171.3L382.6,172.1L382.8,172.7L383.9,173.1L383.5,174L382.9,173.8L381.7,175.5ZM387.5,175.2L386.5,177.2L384.3,175.8L384,174.8L386.7,174Z" fill="#fef0d9"/>
<path d="M382.7,195.4L382.8,195.9L382.5,196.5L383.4,197L384.5,197L384.4,198.1L383.5,198.5L382,198.2L381.6,199.2L380.6,199.3L380.2,198.9L379.1,199.8L378.1,199.9L377.2,199.3L376.5,198.2L375.5,198.6L375.5,197.4L376.9,196L376.9,195.4L377.8,195.6L378.3,195.2L380.1,195.2L380.4,194.6Z" fill="#fef0d9"/>
<path d="M397.6,193.9L397.5,195L396.3,195L396.8,195.5L396.2,197.1L395.9,197.6L394.1,197.6L393.1,198.2L391.4,198L388.5,197.3L387.9,196.5L385.9,196.9L385.7,197.4L384.5,197L383.4,197L382.5,196.5L382.8,195.9L382.7,195.4L383.3,195.3L384.3,196L384.6,195.3L386.4,195.4L387.8,195L388.8,195.1L389.5,195.6L389.6,195.1L389.2,193.5L389.9,193.2L390.6,192L392.1,192.8L393.2,191.8L393.9,191.6L395.5,192.4L396.4,192.2L397.4,192.7L397.3,193Z" fill="#fef0d9"/>
<path d="M388.5,197.3L391.4,198L391.3,199.3L391.9,200.4L390.2,200L388.6,200.9L388.7,202.2L388.5,202.9L389.3,204.2L391.3,205.5L392.5,207.6L395,209.7L396.7,209.7L397.2,210.3L396.6,210.8L398.6,211.7L400.2,212.5L402.1,213.8L402.4,214.3L402,215.3L400.8,214L398.9,213.6L398.1,215.3L399.7,216.3L399.6,217.6L398.7,217.8L397.7,220L396.8,220.2L396.8,219.4L397.1,218L397.6,217.5L396.6,216L395.9,214.6L395,214.3L394.3,213.2L392.9,212.7L391.9,211.7L390.4,211.5L388.7,210.4L386.6,208.7L385.1,207.2L384.4,204.6L383.3,204.3L381.6,203.5L380.6,203.8L379.5,205L378.6,205.2L378.8,204.1L377.7,203.8L377.1,201.8L377.8,201L377.1,200.1L377.2,199.3L378.1,199.9L379.1,199.8L380.2,198.9L380.6,199.3L381.6,199.2L382,198.2L383.5,198.5L384.4,198.1L384.5,197L385.7,197.4L385.9,196.9L387.9,196.5ZM396.4,219.4L395.8,221.4L396.1,222.2L395.7,223.5L394.1,222.5L392.9,222.3L389.9,221L390.1,219.6L392.6,219.9L394.8,219.6ZM382.6,211.6L383.9,213.5L383.8,216.9L382.8,216.7L382,217.6L381.1,216.9L380.9,213.8L380.4,212.3L381.6,212.4Z" fill="#fef0d9"/>
<path d="M391.4,198L393.1,198.2L394.1,197.6L395.9,197.6L396.2,197.1L396.6,197.2L397.1,198L395.5,198.7L395.4,199.7L394.7,200L394.7,200.7L393.9,200.7L393.2,200.3L392.8,200.7L391.4,200.6L391.9,200.4L391.3,199.3Z" fill="#fef0d9"/>
<path d="M397.1,198L397.7,198.3L399.4,199.4L401.1,199.9L401.8,199.5L402.4,200.5L403.2,201.3L402.5,202.2L401.5,201.7L400,201.7L398.2,201.3L397.3,201.3L396.9,201.9L396.1,201.3L395.7,202.3L396.8,203.5L397.4,204.3L398.4,205.3L399.2,205.9L400.1,206.9L402,207.9L401.8,208.4L399.8,207.4L398.5,206.5L396.5,205.7L394.6,203.8L395.1,203.6L394,202.5L393.9,201.7L392.6,201.3L392,202.4L391.4,201.5L391.3,200.6L391.4,200.6L392.8,200.7L393.2,200.3L393.9,200.7L394.7,200.7L394.7,200L395.4,199.7L395.5,198.7Z" fill="#fdd49e"/>
<path d="M402.5,202.2L403.2,202.2L402.8,203.4L403.9,204.3L403.7,205.5L403.2,205.7L402.8,205.9L402.2,206.5L402,207.9L400.1,206.9L399.2,205.9L398.4,205.3L397.4,204.3L396.8,203.5L395.7,202.3L396.1,201.3L396.9,201.9L397.3,201.3L398.2,201.3L400,201.7L401.5,201.7Z" fill="#fdd49e"/>
<path d="M406.2,200.8L407.5,201.4L407.8,202.5L409.1,203.2L409.6,202.6L410.2,202.9L409.7,203.4L410.2,203.8L409.7,204.4L410,205.4L411.2,206.5L410.4,207.3L410.2,208.1L410.4,208.4L410.1,208.8L409.2,208.8L408.5,208.9L408.4,208.8L408.6,208.5L408.8,207.8L408.5,207.8L408,207.4L407.6,207.2L407.3,206.8L406.9,206.7L406.6,206.3L406.2,206.4L406,207.3L405.6,207.5L405.7,207.3L404.9,206.7L404.1,206.5L403.8,206.1L403.2,205.7L403.7,205.5L403.9,204.3L402.8,203.4L403.2,202.2L402.5,202.2L403.2,201.3L402.4,200.5L401.8,199.5L403.4,198.9L404.6,199L405.9,200Z" fill="#fef0d9"/>
<path d="M404.7,208.3L404.5,207.8L403.7,209.1L403.9,209.9L403.4,209.7L402.8,208.9L401.8,208.4L402,207.9L402.2,206.5L402.8,205.9L403.2,205.7L403.8,206.1L404.1,206.5L404.9,206.7L405.7,207.3L405.6,207.5L405.2,208.1Z" fill="#fef0d9"/>
<path d="M406.5,210L406.2,209L405.7,208.8L405.2,208.1L405.6,207.5L406,207.3L406.2,206.4L406.6,206.3L406.9,206.7L407.3,206.8L407.6,207.2L408,207.4L408.5,207.8L408.8,207.8L408.6,208.5L408.4,208.8L408.5,208.9L408,209L406.8,209.5L406.7,210Z" fill="#fef0d9"/>
<path d="M406.5,210L406.3,210.8L406.7,211.9L407.6,212.6L407.6,213.3L407,213.6L406.9,214.5L406,215.7L405.7,215.6L405.6,215L404.3,214.1L404,212.9L404.1,211.1L404.3,210.3L403.9,209.9L403.7,209.1L404.5,207.8L404.7,208.3L405.2,208.1L405.7,208.8L406.2,209Z" fill="#fef0d9"/>
<path d="M406.5,210L406.7,210L406.8,209.5L408,209L408.5,208.9L409.2,208.8L410.1,208.8L411.3,209.6L411.6,211.3L411.2,211.4L410.9,211.8L409.7,211.8L409,212.4L407.6,212.6L406.7,211.9L406.3,210.8Z" fill="#fdd49e"/>
<path d="M406,215.7L406.9,214.5L407,213.6L407.6,213.3L407.6,212.6L409,212.4L409.7,211.8L410.9,211.8L411.2,211.4L411.6,211.3L413.1,211.4L414.8,210.7L416.4,211.6L418.2,211.3L418.1,210L419.2,210.7L418.7,212.3L418.3,212.6L417,212.6L415.9,212.3L413.4,213L415,214.4L413.9,214.9L412.8,214.9L411.5,213.5L411.2,214.1L411.8,215.6L413,216.9L412.2,217.4L413.5,218.6L414.6,219.4L414.8,220.8L412.8,220.2L413.5,221.5L412.2,221.7L413.2,224.1L411.7,224.1L409.9,223L408.9,220.9L408.4,219.1L407.5,218L406.3,216.5ZM414.5,225.9L415.8,226.8L417.5,226.7L419.1,226.8L419.1,227.3L420.2,227L420,227.8L416.9,228L416.9,227.5L414.2,227Z" fill="#fef0d9"/>
<path d="M410.2,203.8L410.9,204.9L411.7,204.7L413.3,205.1L416.4,205.2L417.4,204.6L419.7,204L421.4,204.9L422.6,205.2L421.7,206.3L421.1,208.1L422,209.6L420.2,209.2L418.1,210L418.2,211.3L416.4,211.6L414.8,210.7L413.1,211.4L411.6,211.3L411.3,209.6L410.1,208.8L410.4,208.4L410.2,208.1L410.4,207.3L411.2,206.5L410,205.4L409.7,204.4Z" fill="#fdd49e"/>
<path d="M409.2,194.5L410,194L411.3,194.2L412.6,194.3L413.7,194.9L414.3,194.5L415.8,194.2L416.2,193.7L417.1,193.7L417.7,193.9L418.4,194.6L419.2,195.7L420.6,197.2L420.8,198.4L420.8,199.5L421.3,200.6L422.3,201.1L423.2,200.7L424.2,201.1L424.4,201.8L423.4,202.3L422.8,202.1L422.6,205.2L421.4,204.9L419.7,204L417.4,204.6L416.4,205.2L413.3,205.1L411.7,204.7L410.9,204.9L410.2,203.8L409.7,203.4L410.2,202.9L409.6,202.6L409.1,203.2L407.8,202.5L407.5,201.4L406.2,200.8L405.9,200L404.6,199L406.2,198.5L407.3,196.8L408.1,195.1Z" fill="#fef0d9"/>
<path d="M396.2,197.1L396.8,195.5L396.3,195L397.5,195L397.6,193.9L398.6,194.5L399.4,194.8L401.1,194.5L401.2,194L402,193.9L402.9,193.5L403.2,193.7L404.1,193.4L404.5,192.8L405.2,192.6L407.4,193.4L407.8,193.2L409,193.8L409.2,194.5L408.1,195.1L407.3,196.8L406.2,198.5L404.6,199L403.4,198.9L401.8,199.5L401.1,199.9L399.4,199.4L397.7,198.3L397.1,198L396.6,197.2Z" fill="#fef0d9"/>
<path d="M401,190.4L401.1,190.6L401.9,190.2L403,191.1L404.2,190.6L405.1,190.8L406.5,190.5L408.6,191.5L408.1,192.1L407.8,193.2L407.4,193.4L405.2,192.6L404.5,192.8L404.1,193.4L403.2,193.7L402.9,193.5L402,193.9L401.2,194L401.1,194.5L399.4,194.8L398.6,194.5L397.6,193.9L397.3,193L397.4,192.7L397.6,192.1L398.6,192.2L399.2,191.9L399.2,191.7L399.6,191.6L399.7,191L400.1,190.9L400.4,190.4Z" fill="#fdd49e"/>
<path d="M397.4,192.7L396.4,192.2L395.5,192.4L393.9,191.6L393.2,191.8L392.1,192.8L390.6,192L389.3,190.9L388.3,190.3L388,189.2L387.6,188.5L389,187.9L389.7,187.3L391.1,186.8L391.6,186.3L392.1,186.6L393,186.4L394,187.2L395.5,187.4L395.4,188.1L396.6,188.6L396.8,188L398.2,188.2L398.5,189L399.9,189.2L401,190.4L400.4,190.4L400.1,190.9L399.7,191L399.6,191.6L399.2,191.7L399.2,191.9L398.6,192.2L397.6,192.1Z" fill="#fdd49e"/>
<path d="M393,186.4L392,184.8L392.1,183.9L391.5,182.6L390.7,181.7L391.2,181L390.6,179.8L391.9,179L394.8,177.9L397.1,177.1L399.1,177.5L399.3,178.1L401.2,178.1L403.6,178.4L407.2,178.3L408.2,178.6L408.8,179.4L409,180.5L409.7,181.4L409.8,182.4L408.7,182.9L409.5,184.1L409.7,185.2L411,187.4L410.9,188.1L409.9,188.4L408.4,190.5L409,191.6L408.6,191.5L406.5,190.5L405.1,190.8L404.2,190.6L403,191.1L401.9,190.2L401.1,190.6L401,190.4L399.9,189.2L398.5,189L398.2,188.2L396.8,188L396.6,188.6L395.4,188.1L395.5,187.4L394,187.2Z" fill="#fdd49e"/>
<path d="M407.2,178.3L406.9,177.7L407,177L406.1,176.6L404,176.2L403.3,174.2L405.4,173.4L408.6,173.6L410.5,173.3L410.8,173.8L411.8,174L413.9,175.2L414.3,176.3L412.8,177.1L412.6,178.5L410.6,179.4L408.8,179.4L408.2,178.6Z" fill="#fef0d9"/>
<path d="M403.3,174.2L403.1,172.3L403.8,170.8L405.5,170L407.3,171.8L408.8,171.7L408.8,169.9L410.4,169.4L411.2,169.7L413,170.6L414.6,170.6L415.6,171.2L416,172.4L416.9,173.8L415,174.8L413.9,175.2L411.8,174L410.8,173.8L410.5,173.3L408.6,173.6L405.4,173.4Z" fill="#fdd49e"/>
<path d="M408.8,169.9L408.8,168.4L408.2,168.7L406.9,167.9L406.5,166.5L408.7,165.8L410.9,165.5L413,165.9L414.9,165.8L415.3,166.2L414.2,167.6L415.2,169.9L414.6,170.6L413,170.6L411.2,169.7L410.4,169.4Z" fill="#fdd49e"/>
<path d="M408.8,179.4L410.6,179.4L412.6,178.5L412.8,177.1L414.3,176.3L413.9,175.2L415,174.8L416.9,173.8L419,174.4L419.4,175L420.3,174.7L422.3,175.3L422.7,176.5L422.5,177.2L424,178.8L424.9,179.2L424.8,179.7L426.3,180.1L426.9,180.8L426.3,181.3L424.7,181.2L424.4,181.5L425,182.3L425.8,183.9L424.1,184L423.6,184.6L423.7,185.8L422.9,185.6L421.1,185.7L420.5,185.1L419.8,185.6L419,185.2L417.4,185.2L415.2,184.6L413.1,184.4L411.6,184.4L410.6,185.1L409.7,185.2L409.5,184.1L408.7,182.9L409.8,182.4L409.7,181.4L409,180.5Z" fill="#fef0d9"/>
<path d="M425.8,183.9L426.5,184L426.9,183.4L427.6,183.5L429.5,183.3L431.1,184.7L430.7,185.2L431,186L432.6,186.1L433.6,187.2L433.6,187.7L436.3,188.6L437.8,188.2L439.2,189.4L440.4,189.3L443.5,190.2L443.7,190.9L443.2,192.2L443.9,193.6L443.8,194.5L441.9,194.6L441,195.4L441.1,196.5L439.5,196.7L438.3,197.5L436.4,197.7L434.8,198.6L435.2,200.2L436.3,200.8L438.4,200.7L438.2,201.6L436,202L433.4,203.5L432.2,203L432.5,201.8L430.1,201L430.4,200.5L432.2,199.7L431.5,199.1L428.2,198.5L427.9,197.5L426.1,197.8L425.5,199.2L424.2,201.1L423.2,200.7L422.3,201.1L421.3,200.6L421.8,200.3L422,199.5L422.5,198.6L422.3,198.2L422.7,198L422.9,198.3L424.1,198.4L424.6,198.2L424.2,198L424.3,197.6L423.5,196.9L423.1,195.9L422.2,195.5L422.3,194.6L421.2,193.9L420.4,193.8L418.8,193L417.5,193.3L417.1,193.7L416.2,193.7L415.8,194.2L414.3,194.5L413.7,194.9L412.6,194.3L411.3,194.2L410,194L409.2,194.5L409,193.8L407.8,193.2L408.1,192.1L408.6,191.5L409,191.6L408.4,190.5L409.9,188.4L410.9,188.1L411,187.4L409.7,185.2L410.6,185.1L411.6,184.4L413.1,184.4L415.2,184.6L417.4,185.2L419,185.2L419.8,185.6L420.5,185.1L421.1,185.7L422.9,185.6L423.7,185.8L423.6,184.6L424.1,184Z" fill="#fdd49e"/>
<path d="M417.1,193.7L417.5,193.3L418.8,193L420.4,193.8L421.2,193.9L422.3,194.6L422.2,195.5L423.1,195.9L423.5,196.9L424.3,197.6L424.2,198L424.6,198.2L424.1,198.4L422.9,198.3L422.7,198L422.3,198.2L422.5,198.6L422,199.5L421.8,200.3L421.3,200.6L420.8,199.5L420.8,198.4L420.6,197.2L419.2,195.7L418.4,194.6L417.7,193.9Z" fill="#fdd49e"/>
<path d="M409.1,139.1L414.7,140.7L412.7,141.2L414.9,142.6L412.3,143.5L411,143.7L411.4,142.2L409,141.3L406.6,142L406.2,143.7L404.8,144.6L402.9,144.1L400.7,144.2L398.6,143L397.7,143.6L396.7,143.7L396.7,145.2L393.5,144.8L393.2,146L391.6,146L390.7,147.6L389.3,150.1L387,153.3L387.7,154.1L387.2,155L385.4,155L384.5,157.2L384.8,160.3L386.1,161.5L385.8,164.3L384.4,165.9L383.7,167.3L382.3,165.8L378.8,168.6L376.4,169.2L373.7,167.9L373,165.4L372.2,159.9L373.8,158.4L378.4,156.4L381.7,154L384.6,150.8L388.2,146.5L390.8,144.8L395,142L398.5,141.1L401.2,141.2L403.3,139.4L406.3,139.5ZM385,122.1L385.4,121.5L387.5,121.4L389.4,122L394.6,123.4L391.1,124.2L390.6,125.6L389.4,125.9L389,127.5L387.2,127.6L383.7,126.4L385,125.7L382.7,125.2L379.5,123.6L378.2,122.1L382,121.5L382.9,122.1ZM402.4,121.4L400.6,122.4L396.5,122.6L392.1,122.3L391.7,121.8L389.7,121.7L387.9,120.9L392.2,120.5L394.4,120.9L395.6,120.4L399.4,120.8ZM399.9,125.5L396.8,126.3L394,125.8L394.9,125.3L393.9,124.8L396.8,124.4L397.6,125.1Z" fill="#fef0d9"/>
<path d="M383.7,167.3L384.4,165.9L385.8,164.3L386.1,161.5L384.8,160.3L384.5,157.2L385.4,155L387.2,155L387.7,154.1L387,153.3L389.3,150.1L390.7,147.6L391.6,146L393.2,146L393.5,144.8L396.7,145.2L396.7,143.7L397.7,143.6L400.2,144.7L403.1,146.2L403.8,149.7L404.6,150.5L401.7,151.2L400.3,152.8L400.8,154.2L398.3,156.1L395.1,158.1L394.3,161.4L395.8,163L397.7,164.4L396.4,167.1L394.5,167.6L394.3,171.7L393.4,174L391.1,173.7L390.2,175.7L388,175.8L387.2,173.5L385.4,170.7Z" fill="#fef0d9"/>
<path d="M411,143.7L411.2,145.3L414.1,146.7L413,148.4L415.6,151L414.9,153L416.9,154.7L416.6,156.2L419.6,157.8L419.2,159L417.8,160.3L414.6,163.4L411.3,163.6L408.2,164.4L405.3,164.9L404,163.6L402.1,162.8L402.2,160.5L401,158.4L401.6,157L402.9,155.6L406.5,153.1L407.6,152.6L407.2,151.6L404.6,150.5L403.8,149.7L403.1,146.2L400.2,144.7L397.7,143.6L398.6,143L400.7,144.2L402.9,144.1L404.8,144.6L406.2,143.7L406.6,142L409,141.3L411.4,142.2Z" fill="#fef0d9"/>
<path d="M434.2,227.4L434.6,226.7L436.2,226.8L438.1,226L436.8,227.1L437,227.6L437.1,227.8L435,228.9L433.9,228.5L433.2,227.5Z" fill="#fef0d9"/>
<path d="M441,211.3L444.2,212.3L446.6,211.9L448.5,212.1L450.7,210.8L453,210.7L455.2,211.9L455.8,212.8L455.8,214.1L457.5,214.7L458.5,215.5L457.1,216.2L458.3,219.2L458,220L459.6,222.1L458.6,222.5L457.7,221.9L455.2,221.5L454.3,222L451.9,222.4L450.8,222.3L448.4,223.3L446.7,223.3L445.4,222.8L443.2,223.5L442.4,223L442.5,224.5L442,225L441.5,225.6L440.5,224.4L441.2,223.5L439.9,223.7L438,223.1L436.7,224.6L433.5,224.9L431.6,223.5L429.2,223.4L428.9,224.5L427.4,224.8L425.2,223.4L422.8,223.4L421.3,220.9L419.6,219.4L420.4,217.4L418.9,216.2L421,213.7L424.2,213.6L424.9,211.6L429,211.9L431.3,210.3L433.6,209.5L437.1,209.5ZM418.1,210L420.2,209.2L422,209.6L422.4,210.6L424.3,211.4L424,212L421.5,212.2L420.7,213L419.1,214.4L418.3,213.2L418.3,212.6L418.7,212.3L419.2,210.7Z" fill="#fdbb84"/>
<path d="M414.9,142.6L416.4,141.9L419.6,143.2L424.3,143.7L431.5,146.2L433.2,147.3L433.8,148.8L432.3,149.9L429.7,150.6L421.4,148.8L420.3,149.1L423.5,150.8L424,151.8L424.7,154.2L427.2,154.9L428.8,155.5L428.7,154.4L427.3,153.4L428.2,152.5L432.8,153.9L434.2,153.4L432.4,151.7L435.7,149.5L437.4,149.6L439.3,150.4L439.7,148.8L437.8,147.5L438.1,146.2L436.3,144.8L441.3,145.5L442.8,146.8L440.8,147L441.2,148.3L442.9,149L445.4,148.6L445.2,147.1L448.3,146.1L453.3,144.2L454.6,144.3L453.6,145.6L455.8,145.8L456.7,145.1L459.8,145L461.8,144.1L464.4,145.4L465.6,144L463.2,142.7L463.6,142L468.9,142.6L471.6,143.3L479.2,145.9L479.6,144.7L477.2,143.5L476.9,143.1L474.7,142.9L474.7,141.8L472.7,140.1L472.3,139.4L474,137.5L473.8,135.6L474.7,135.2L479.3,135.7L480.5,136.9L480.1,138.6L481.6,139.3L483.2,140.8L484.7,143.8L487.5,145.2L487.7,146.6L486.2,149.8L488.4,150.2L488.6,149.4L490.2,148.8L489.9,147.7L490.7,146.6L488.9,145.3L488.8,143.9L486.8,143.7L485.6,142.5L485.5,140.3L482.1,138.5L484,137.1L482.5,135.6L483.3,135.6L485,136.7L485.8,138.8L487.9,139.2L486,137.6L488.1,136.8L491.3,136.7L495.3,137.9L492.4,136.1L490.5,133.9L492.9,133.5L496.7,133.6L499.9,133.3L497.7,132.2L498.2,130.9L500,130.8L501.9,129.8L505.7,129.6L505.6,129L509.4,128.8L511.2,129.3L513.4,128.2L516.2,128.3L515.6,127.4L516,126.6L518.6,125.8L522,126.4L520.5,126.9L524.3,127.2L526,128.2L526.7,127.7L531.2,127.7L535.9,128.7L538.1,129.4L539.1,130.5L538.1,131.1L535.4,132.2L534.9,132.8L537.2,133.1L540.1,133.6L541.1,133.2L543.4,134.5L543.5,134L545.7,133.7L551.1,134L552.7,135L559.7,135.3L557.8,133.7L561.7,134.1L564.2,134.1L568.2,135.2L570.6,136.5L570.8,137.4L574.9,139.1L578.6,139.9L577.3,137.7L581.2,138.7L583.2,138.1L587.2,138.7L587.6,138.1L590.7,138.4L586.8,136.5L587.7,135.6L604.1,136.9L607.3,138.2L614,139.8L620,139.4L623.8,139.8L626.5,140.7L628.6,142.3L631.5,142.9L633.1,142.4L636,142.4L639.8,142.8L642.6,142.6L648.4,144.5L649.4,143.8L646,142.4L645.2,141.4L651.4,142L654.7,141.9L661.1,143L665,143.9L678.5,152.9L677.7,153.9L675.2,153.7L678.5,155L682.2,156.9L683.9,157.5L685.5,158.5L685.9,159.1L681.8,158.6L679.1,160.4L677.9,160.6L677.3,162.3L676.4,163.7L677.1,164.8L672.4,163.2L669.9,165.1L668,164.2L667.5,165.2L664.6,164.9L665.9,166.4L666.4,168.8L667.5,169.7L670.3,170.3L674,173.8L672.3,173.9L673.7,176L675.6,177L673.6,178.3L675.8,181.1L673.4,181.7L675.3,184.3L674.6,186.6L672.3,184.9L668,181.2L661.4,175.7L658.8,172.3L658.9,170.9L657.7,169.8L660,169.2L659.9,166.2L660.2,163.7L661.2,161.8L658.6,158.5L656.6,158.7L658,160.7L656.5,163.3L651.5,160.4L647.8,161.2L647.7,165.1L650.9,166.6L647.5,167.2L644.9,167.5L643.1,165.7L639.8,165.4L638.8,166.6L632.7,166.1L627.3,166.9L625.9,171.6L623.9,177.3L627.2,177.7L629.5,179.2L631.9,179.8L632,178.5L634.3,178.7L639.5,181.4L641.4,183.5L642,186L644.2,189L646.3,193.1L645.9,196.8L646.5,198.5L645.7,201.5L644.9,204.5L644.5,206L642.7,207.5L641.4,207.5L639.3,206.3L637.6,208.2L637.8,209L637.2,208.6L636.4,207.3L637.4,207.2L635.9,204.2L633.9,201.9L635.1,201.1L637.9,201.5L637.7,199L636.5,196.2L636.6,195.3L636.1,193L633.3,193.8L632.2,194.8L629.1,194.8L626.7,192.4L623.1,190.6L619,189.8L616.5,187.3L614.7,185.8L613.1,184.7L610,182.2L607.6,181.2L604.1,180.5L601.5,180.6L599.4,181L598.8,182.3L600.3,182.8L601.3,184.2L600.8,185L600.8,187.7L601.6,188.8L599.8,190.4L596.8,189.4L594.5,189.6L593,188.8L591.6,188.5L589.8,190.3L587.4,190.7L585.9,191.4L583.1,190.9L581.3,191L579.3,189.7L576.6,188.5L574.4,188.1L572.1,188.4L570.5,188.9L567,187.9L565.5,186L562.8,185.3L560.8,185.1L558,184L557.5,186.6L559.1,188.1L558.1,189.8L554.9,189.2L552.9,189.1L550.9,187.9L548.8,187.9L546.6,187.1L544.2,188.3L541.5,190.5L539.6,190.9L538.9,191.1L537.1,189.6L534.7,189.9L533.3,188.8L531.7,188.4L530,186.9L528.7,186.5L526.2,187.1L522.8,185.7L522.3,187L514.9,180.6L511.5,178.7L511.8,177.9L508.1,180.3L506.3,180.4L505.8,179.1L502.9,178.2L501.2,178.8L499.4,176.3L495.7,175.7L494.4,176.8L490,177.7L489.3,178.3L482.4,179.1L481.8,180L483.9,181.7L482.3,182.3L482.9,183L481.4,184.2L485.3,186L485.2,187.1L482.3,187L482,187.8L479,186.5L475.9,186.5L474.2,187.6L471.5,186.6L466.6,184.8L463.5,184.9L460.2,187.6L460.4,189.5L458,188L457.1,190.8L457.8,191.3L457.1,193.2L459.3,194.9L460.8,194.9L462.5,196.6L462.6,197.9L463.7,198.3L463.2,199.8L461.3,200.2L459.8,202.9L462.3,205.3L462.4,207L465.4,210.1L464.4,211.1L464.2,211.8L463.2,211.6L461.4,210L460.8,210L459.4,209.4L458.5,208.3L456.4,207.8L455.2,208.2L454.8,207.7L451.7,206.4L448.5,206L446.7,205.6L446.5,205.9L443.4,203.7L440.9,202.7L438.8,201.3L440.2,200.8L441.5,198.7L440.2,197.7L443,196.7L442.9,196.1L441.1,196.5L441,195.4L441.9,194.6L443.8,194.5L443.9,193.6L443.2,192.2L443.7,190.9L443.5,190.2L440.4,189.3L439.2,189.4L437.8,188.2L436.3,188.6L433.6,187.7L433.6,187.2L432.6,186.1L431,186L430.7,185.2L431.1,184.7L429.5,183.3L427.6,183.5L426.9,183.4L426.5,184L425.8,183.9L425,182.3L424.4,181.5L424.7,181.2L426.3,181.3L426.9,180.8L426.3,180.1L424.8,179.7L424.9,179.2L424,178.8L422.5,177.2L422.7,176.5L422.3,175.3L420.3,174.7L419.4,175L419,174.4L416.9,173.8L416,172.4L415.6,171.2L414.6,170.6L415.2,169.9L414.2,167.6L415.3,166.2L414.9,165.8L416.7,164.5L414.6,163.4L417.8,160.3L419.2,159L419.6,157.8L416.6,156.2L416.9,154.7L414.9,153L415.6,151L413,148.4L414.1,146.7L411.2,145.3L411,143.7L412.3,143.5ZM47.8,152.9L61.3,143.9L62.8,145.6L64,147.8L61.8,149.2L62.1,149.8L64.1,148.2L68.3,148.5L68.7,150.6L65.5,151.6L62.4,151.8L59.2,154.1L57.8,154.6L56.3,154.5L56.1,153.7L54.7,153L55.7,152L54.5,151.7L52,151.9L52.3,151.2L53.9,150.3L51,150.9L50.2,151.9ZM407.2,178.3L403.6,178.4L401.2,178.1L401.5,177L404,176.2L406.1,176.6L407,177L406.9,177.7ZM649,187.3L654.6,191.7L651,190.9L652.5,194.6L656.4,197.2L657.6,199L655,197.4L655,199.4L653.1,197.2L651.6,194.8L649.3,192L648.3,190.1L645.7,186.8L642.5,184.3L639.7,180.9L640.5,179.8L638.7,178.6L639.2,178.2L641.2,179.9L644,182.3L646.1,184.7ZM465.9,127.3L467.6,128.1L467.1,128.7L462.4,129.6L458.4,130.6L454.8,132.5L453.7,134.6L452.3,136.6L453.6,138.3L457.6,140.1L456.8,140.3L451.3,140L450.3,139L447.1,138.5L446.3,137.3L447.7,136.9L447.1,135.7L449.2,133.9L447.7,133.7L450.4,131.9L449.4,131L452.2,129.9L456.3,128.6L461.1,128.3L463.2,127.5ZM509.1,123.6L506.2,123.8L501.5,123.3L498.2,122.5L495.4,121.2L493,120.9L495.3,119.8L497.8,119.4L501.7,120.2L507.2,121.9ZM518.1,124.6L510.7,125.4L510.2,122.9L511.1,122.7L512.3,122.8L517.5,123.9ZM575,128.8L579.2,128.9L586.5,130L587.7,131.5L581.8,131.4L580,131.9L574.9,130.6L573.6,129.2ZM589.4,130.8L588.7,130.1L592,130.4L596.8,131L596.3,131.8L593.5,131.6ZM585.1,134.5L585.5,133.7L587.2,133.5L590.6,134.3L591.6,134.8L589.2,134.8L585.6,134.6ZM70.5,138.4L73.5,138.9L72.9,139.2L70.3,139.7L67.9,139.9ZM658.4,139.9L656.7,140L655.3,139.3L655.8,138.4ZM433.8,119.9L436.1,120.3L435.8,120.5L434,120.8L432.8,120.9L432.8,121.2L431.3,121.5L429.5,121.1L430,120.5L426.8,120.5L429.4,120.2L431.5,120.2L432.1,120.6L432.6,120.2Z" fill="#fef0d9"/>
<path d="M450.7,210.8L450.8,209.7L450,207.9L448.6,207L447.4,206.7L446.5,205.9L446.7,205.6L448.5,206L451.7,206.4L454.8,207.7L455.2,208.2L456.4,207.8L458.5,208.3L459.4,209.4L460.8,210L460.3,210.3L461.6,211.7L461.4,212L460.2,211.9L458.5,211.1L458.1,211.5L455.2,211.9L453,210.7Z" fill="#fdbb84"/>
<path d="M455.2,211.9L458.1,211.5L458.7,212.2L459.6,212.7L459.3,213.3L460.5,214.2L460.1,215L461.1,215.7L462.2,216.2L462.6,218L461.8,218L460.7,216.5L460.6,216.1L459.7,216.1L458.9,215.4L458.5,215.5L457.5,214.7L455.8,214.1L455.8,212.8Z" fill="#fdd49e"/>
<path d="M460.8,210L461.4,210L463.2,211.6L464.2,211.8L464.4,211.1L465.4,210.1L466.8,211.4L468.3,213.3L469.3,213.4L470.1,214.1L468.4,214.3L468.4,216.3L468.2,217.2L467.6,217.8L467.9,219.1L467.3,219.2L465.8,217.9L466.3,216.6L465.5,215.8L464.7,216L462.6,218L462.2,216.2L461.1,215.7L460.1,215L460.5,214.2L459.3,213.3L459.6,212.7L458.7,212.2L458.1,211.5L458.5,211.1L460.2,211.9L461.4,212L461.6,211.7L460.3,210.3ZM458.5,215.5L458.9,215.4L459.7,216.1L460.6,216.1L460.7,216.5L461.8,218L460.3,217.7L459,216.5Z" fill="#fdbb84"/>
<path d="M448,232L444,234.8L441.5,233.7L441.4,233.7L441.7,233.3L441.5,232.2L441.9,230.8L443,229.8L442.5,228.8L441.5,228.7L441.1,226.7L441.5,225.6L442,225L442.5,224.5L442.4,223L443.2,223.5L445.4,222.8L446.7,223.3L448.4,223.3L450.8,222.3L451.9,222.4L454.3,222L453.5,223.6L452.4,224.2L452.9,226.1L452.5,229.3Z" fill="#fdd49e"/>
<path d="M441.5,232.2L440.9,232.3L440.8,232.7L440.1,232.7L440.6,230.6L441.5,228.8L441.5,228.7L442.5,228.8L443,229.8L441.9,230.8Z" fill="#fdd49e"/>
<path d="M441.5,233.7L441.2,234.6L440.3,234.2L440.1,235.9L440.7,236.2L440.1,236.6L440.1,237.3L441.1,236.9L441.3,237.9L440.6,242.1L438.7,237.6L439.3,236.7L439.1,236.6L439.5,235.4L439.8,233.4L440,232.8L440.1,232.7L440.8,232.7L440.9,232.3L441.5,232.2L441.7,233.3L441.4,233.7Z" fill="#fef0d9"/>
<path d="M441.2,234.6L441.5,233.7L444,234.8L448,232L449.3,235.2L448.9,235.5L444.6,236.9L447.1,239.5L446.4,239.9L446.1,240.8L444.5,241.1L444.1,242.1L443.2,242.9L440.7,242.5L440.6,242.1L441.3,237.9L441.1,236.9L441.4,236.1Z" fill="#fdd49e"/>
<path d="M461.5,225.2L463,226L463.4,227.5L462.5,228.4L462.3,230.4L464.1,232.9L467,234.3L468.5,236.3L468.4,238.2L469,238.2L469.3,239.6L470.7,241L469.3,240.8L467.8,240.6L466.5,243.1L462.4,242.9L455.5,237.7L452,235.9L449.3,235.2L448,232L452.5,229.3L452.9,226.1L452.4,224.2L453.5,223.6L454.3,222L455.2,221.5L457.7,221.9L458.6,222.5L459.6,222.1Z" fill="#fdd49e"/>
<path d="M469.3,240.8L469.9,242L469.8,242.6L470.8,244.6L469.2,244.6L468.5,243.4L466.5,243.1L467.8,240.6Z" fill="#fdd49e"/>
<path d="M460.6,276.4L460.3,275.3L459.5,274.5L459.3,273.5L458,272.5L456.7,270.3L455.9,268.2L454.3,266.4L453.2,266L451.6,263.5L451.2,261.7L451.2,260.1L449.7,257.2L448.6,256.2L447.3,255.7L446.5,254.2L446.6,253.6L445.9,252.3L445.2,251.7L444.2,249.7L442.6,247.6L441.3,245.8L440.2,245.8L440.5,244.4L440.5,243.5L440.7,242.5L443.2,242.9L444.1,242.1L444.5,241.1L446.1,240.8L446.4,239.9L447.1,239.5L444.6,236.9L448.9,235.5L449.3,235.2L452,235.9L455.5,237.7L462.4,242.9L466.5,243.1L468.5,243.4L469.2,244.6L470.8,244.6L471.9,246.8L473.1,247.4L473.6,248.3L475.2,249.4L475.4,250.5L475.3,251.4L475.7,252.2L476.4,253L476.8,253.8L477.2,254.5L477.9,255L478.5,254.8L479,255.8L479.2,256.4L480.3,259L487.2,260.3L487.6,259.8L488.8,261.6L487.7,266.9L481.1,269.5L474.7,270.5L472.6,271.6L471.2,274.4L470.1,274.8L469.5,273.9L468.6,274.1L466.4,273.8L466,273.6L463.4,273.6L462.8,273.8L461.8,273.2L461.3,274.4L461.6,275.5Z" fill="#fdd49e"/>
<path d="M484.1,275.6L482.5,276.3L482.1,277.4L482.1,278.3L479.9,279.4L476.3,280.6L474.4,282.5L473.4,282.6L472.7,282.5L471.4,283.6L470,284.1L468.1,284.2L467.5,284.4L467,285L466.4,285.2L466.1,285.9L465,285.8L464.3,286.2L462.7,286L462,284.5L462,283.1L461.6,282.3L461.1,280.4L460.4,279.3L460.8,279.2L460.5,278L460.8,277.5L460.6,276.4L461.6,275.5L461.3,274.4L461.8,273.2L462.8,273.8L463.4,273.6L466,273.6L466.4,273.8L468.6,274.1L469.5,273.9L470.1,274.8L471.2,274.4L472.6,271.6L474.7,270.5L481.1,269.5L483.2,273.8Z" fill="#fdbb84"/>
<path d="M496.2,264L495.5,265.7L494.4,265.6L494,266.2L493.8,267.5L494.2,269.3L494,269.6L493,269.6L491.7,270.6L491.5,271.8L491.1,272.4L489.7,272.4L488.8,273L488.9,274.1L487.9,274.8L486.6,274.6L485.1,275.4L484.1,275.6L483.2,273.8L481.1,269.5L487.7,266.9L488.8,261.6L487.6,259.8L487.5,258.7L488.1,257.7L488,256.6L488.9,256.1L488.5,255.7L488.5,254L489.7,254L490.9,255.8L492.2,256.7L493.9,257.1L495.3,257.6L496.4,259.1L497.1,259.9L498,260.3L498,260.8L497.3,262.4L497,263.1ZM489.1,252L489.7,254L488.5,254L488.6,251.1L489.2,250.2L489.5,250.4Z" fill="#fdbb84"/>
<path d="M479,255.8L479.4,255.7L479.6,256.4L481.3,256L483.1,256L484.5,256.1L485.9,254.3L487.4,252.7L488.6,251.1L488.5,254L488.5,255.7L488.9,256.1L488,256.6L488.1,257.7L487.5,258.7L487.6,259.8L487.2,260.3L480.3,259L479.2,256.4Z" fill="#fdbb84"/>
<path d="M477.2,254.5L476.8,252.6L477.3,251.2L477.9,250.9L478.7,251.7L478.9,253.2L478.5,254.8L477.9,255Z" fill="#e34a33"/>
<path d="M479.2,222L481,221.5L482.3,220.1L483.7,220.1L484.5,219.6L486.1,219.9L488.8,221.2L490.6,221.5L493.5,223.8L495.2,223.9L495.8,226.1L495.6,229.3L495.4,231.2L496.4,231.6L495.8,233L496.9,235.1L497.3,236.7L499.1,237.2L499.6,238.9L497.9,241.2L499.3,242.6L500.4,244.2L502.7,245.3L503.1,247.6L504.2,248L504.6,249.2L501.5,250.6L501.1,253.6L496.8,252.8L494.3,252.2L491.7,251.9L490.3,248.7L489.2,248.2L487.5,248.7L485.5,250L482.6,249.1L480.1,247.1L477.9,246.3L476.1,243.9L474,240.4L472.9,240.8L471.4,240L470.7,241L469.3,239.6L469,238.2L468.4,238.2L468.5,236.3L467,234.3L464.1,232.9L462.3,230.4L462.5,228.4L463.4,227.5L463,226L461.5,225.2L459.6,222.1L458,220L458.3,219.2L457.1,216.2L458.5,215.5L459,216.5L460.3,217.7L461.8,218L462.6,218L464.7,216L465.5,215.8L466.3,216.6L465.8,217.9L467.3,219.2L467.9,219.1L468.9,221L471,221.6L472.8,222.9L475.9,223.3L479.2,222.6Z" fill="#fdbb84"/>
<path d="M495.8,226.1L498.3,227L499.8,226.7L500,225.5L501.6,225.1L502.7,224.3L502.6,222.3L504.3,221.7L504.4,220.8L505.6,221.5L506.3,221.6L507.5,221.6L509.2,222.2L510,222.5L511.3,221.7L512.2,222.2L512.6,221L513.9,221L514.1,220.6L514,219.6L514.7,218.7L516,219.3L516,220.1L516.7,220.2L517.1,222.4L518.1,223.2L518.8,222.7L519.7,222.4L520.7,221.2L522.2,221.5L524.4,221.5L525,222.2L523.9,222.5L522.9,223L520.5,223.3L518.3,223.8L517.3,225L518.1,226.1L518.7,227.4L517.9,228.5L518.2,229.4L517.8,230.4L515.7,230.3L517,232L515.7,232.7L515.1,234.3L515.6,235.8L514.9,236.6L514,236.3L512.4,236.7L512.3,237.4L510.7,237.4L509.7,238.9L510.1,241.1L507.4,242.2L505.8,241.9L505.4,242.5L504,242.2L501.9,242.6L497.9,241.2L499.6,238.9L499.1,237.2L497.3,236.7L496.9,235.1L495.8,233L496.4,231.6L495.4,231.2L495.6,229.3Z" fill="#fdbb84"/>
<path d="M525,222.2L527,223.4L528.1,225.4L532,226.5L530.5,228.7L528.1,229.1L524.7,228.4L523.9,229.5L525.2,231.8L526.4,233.6L528.5,234.9L526.9,236.4L527.3,238.2L525.7,240.8L524.8,243.5L523,246.2L520.4,246L518.3,248.8L520,249.9L520.5,251.9L522,253.2L522.7,255.5L517.8,255.5L516.5,257.2L514.8,256.6L513.9,254.7L511.9,252.7L507.8,253.2L504.2,253.2L501.1,253.6L501.5,250.6L504.6,249.2L504.2,248L503.1,247.6L502.7,245.3L500.4,244.2L499.3,242.6L497.9,241.2L501.9,242.6L504,242.2L505.4,242.5L505.8,241.9L507.4,242.2L510.1,241.1L509.7,238.9L510.7,237.4L512.3,237.4L512.4,236.7L514,236.3L514.9,236.6L515.6,235.8L515.1,234.3L515.7,232.7L517,232L515.7,230.3L517.8,230.4L518.2,229.4L517.9,228.5L518.7,227.4L518.1,226.1L517.3,225L518.3,223.8L520.5,223.3L522.9,223L523.9,222.5Z" fill="#fdbb84"/>
<path d="M532,226.5L535.1,229.5L535.5,231.6L536.7,233L536.9,234.3L535.3,234L536.6,236.8L539.1,238.5L542.6,240.3L541.4,241.5L541.1,243.9L543.4,244.9L545.7,246.2L548.9,247.7L552.1,248L553.6,249.3L555.4,249.6L558.2,250.2L560,250.1L560.1,249.1L559.4,247.4L559.4,246.3L560.6,245.8L561.2,247.8L561.4,248.3L563.6,249.3L564.9,248.9L566.9,249.1L568.7,249L568.5,247.4L567.4,246.6L569.1,246.3L570.7,244.3L572.9,242.7L574.9,243.3L576.2,242.2L577.7,243.8L577.2,244.9L579.7,245.3L580.1,246.3L579.4,246.8L579.9,248.4L578.2,247.9L575.7,249.7L576.1,251.2L575.3,253.4L575.4,254.7L574.7,256.8L572.9,256.2L573.2,258.9L572.9,259.8L573.3,260.9L572.2,261.5L570.4,257.4L569.8,257.4L569.7,259.1L568.3,257.7L568.7,256.2L569.7,256.1L570.4,253.9L569,253.4L566.9,253.5L564.7,253.1L564.2,251.3L563.1,251.2L561.1,250L560.7,251.8L562.5,253.2L561.3,254.2L560.9,255.1L562.4,255.8L562.3,257.4L563.4,259.3L564,261.5L563.8,262.5L562.3,262.4L559.6,262.9L560,264.9L559,266.5L555.9,268.2L553.8,271.3L552.3,272.9L550.2,274.6L550.3,275.8L549.3,276.5L547.3,277.4L546.2,277.5L545.8,279.5L546.5,282.9L546.9,285.1L546.1,287.6L546.4,292L545.2,292.1L544.3,294.1L545,295L542.9,295.7L542.3,297.5L541.4,298.2L539.1,295.8L537.8,292.1L536.8,289.5L535.9,288.3L534.5,285.8L533.7,282.5L533.1,280.9L530.7,277.3L529.3,272.3L528.3,268.9L527.9,265.8L527.2,263.3L524.1,264.9L522.5,264.6L519.2,261.4L520.2,260.5L519.4,259.5L516.5,257.2L517.8,255.5L522.7,255.5L522,253.2L520.5,251.9L520,249.9L518.3,248.8L520.4,246L523,246.2L524.8,243.5L525.7,240.8L527.3,238.2L526.9,236.4L528.5,234.9L526.4,233.6L525.2,231.8L523.9,229.5L524.7,228.4L528.1,229.1L530.5,228.7Z" fill="#fc8d59"/>
<path d="M559.4,246.3L559.4,247.4L560.1,249.1L560,250.1L558.2,250.2L555.4,249.6L553.6,249.3L552.1,248L548.9,247.7L545.7,246.2L543.4,244.9L541.1,243.9L541.4,241.5L542.6,240.3L543.4,239.7L545.3,240.5L547.9,242.2L549.2,242.6L550.2,243.8L552.1,244.3L554.1,245.5L556.7,246.1Z" fill="#fdbb84"/>
<path d="M567.4,246.6L568.5,247.4L568.7,249L566.9,249.1L564.9,248.9L563.6,249.3L561.4,248.3L561.2,247.8L562.3,245.9L563.4,245.2L565.1,245.8L566.3,245.9Z" fill="#fc8d59"/>
<path d="M572.2,261.5L572.5,263.4L571.6,263L572.1,265.1L571.2,263.8L570.9,262.4L570.3,261.2L569.1,259.6L567,259.5L567.4,260.6L566.9,262.1L565.9,261.5L565.6,262L564.9,261.7L564,261.5L563.4,259.3L562.3,257.4L562.4,255.8L560.9,255.1L561.3,254.2L562.5,253.2L560.7,251.8L561.1,250L563.1,251.2L564.2,251.3L564.7,253.1L566.9,253.5L569,253.4L570.4,253.9L569.7,256.1L568.7,256.2L568.3,257.7L569.7,259.1L569.8,257.4L570.4,257.4Z" fill="#fdbb84"/>
<path d="M551.2,299.4L551,302.1L550,302.8L548,303.4L546.9,301.4L546.3,297.6L547.1,293.4L548.8,294.8L549.9,296.7Z" fill="#e34a33"/>
<path d="M538.9,191.1L538.1,192.8L536.6,193L537.6,195.6L537,196.8L532.6,195.9L533,200.5L532.1,201.1L528.5,202.1L532.1,206.5L530.9,207.2L531.6,208.7L530.1,208.3L528.7,207.4L525.6,207.1L522.1,207L521.4,207.3L518,206.2L517.1,206.8L517.2,208.3L513.5,207.4L512.2,207.8L512.1,208.9L511.1,209.4L508.9,211.2L508.5,213L507.7,213.1L506.8,211.8L504,211.7L503,209.6L502,209.6L501.4,207L498.3,205.1L494.8,205.3L492.4,205.7L489.8,203.4L487.8,202.4L484,200.6L483.6,200.4L478.7,201.9L481.3,211.4L480.2,211.5L478.3,209.5L476.7,208.8L474.4,209.3L473.7,210.2L473.4,209.5L473.7,208.5L473,207.6L470.4,206.7L468.9,204.4L467.6,203.7L467.3,202.9L469.4,203.1L469,201.2L470.7,200.8L472.6,201.2L472.3,198.7L471.5,197.1L469.5,197.3L467.6,196.6L465.5,197.8L463.7,198.3L462.6,197.9L462.5,196.6L460.8,194.9L459.3,194.9L457.1,193.2L457.8,191.3L457.1,190.8L458,188L460.4,189.5L460.2,187.6L463.5,184.9L466.6,184.8L471.5,186.6L474.2,187.6L475.9,186.5L479,186.5L482,187.8L482.3,187L485.2,187.1L485.3,186L481.4,184.2L482.9,183L482.3,182.3L483.9,181.7L481.8,180L482.4,179.1L489.3,178.3L490,177.7L494.4,176.8L495.7,175.7L499.4,176.3L501.2,178.8L502.9,178.2L505.8,179.1L506.3,180.4L508.1,180.3L511.8,177.9L511.5,178.7L514.9,180.6L522.3,187L522.8,185.7L526.2,187.1L528.7,186.5L530,186.9L531.7,188.4L533.3,188.8L534.7,189.9L537.1,189.6Z" fill="#fef0d9"/>
<path d="M481.3,211.4L478.7,201.9L483.6,200.4L484,200.6L487.8,202.4L489.8,203.4L492.4,205.7L494.8,205.3L498.3,205.1L501.4,207L502,209.6L503,209.6L504,211.7L506.8,211.8L507.7,213.1L508.5,213L508.9,211.2L511.1,209.4L512.1,208.9L512.8,209.2L511.6,210.8L513.5,211.8L514.8,211.2L517.7,212.5L515.5,214.4L513.8,214.1L513,214.2L512.5,213.5L512.6,212.3L509.9,212.9L509.7,214.5L509.1,216L507.3,215.8L507,217L508.8,217.6L509.8,219.5L509.2,222.2L507.5,221.6L506.3,221.6L505.9,220L502.8,218.9L500.2,217.6L498.5,216.4L495.6,214.6L493.9,212L493.1,211.5L490.8,211.6L489.9,211.1L489.1,209L485.9,207.7L484.5,209.2L483,210L483.6,211.3Z" fill="#fef0d9"/>
<path d="M473.7,210.2L474.4,209.3L476.7,208.8L478.3,209.5L480.2,211.5L481.3,211.4L483.6,211.3L483,210L484.5,209.2L485.9,207.7L489.1,209L489.9,211.1L490.8,211.6L493.1,211.5L493.9,212L495.6,214.6L498.5,216.4L500.2,217.6L502.8,218.9L505.9,220L506.3,221.6L505.6,221.5L504.4,220.8L504.3,221.7L502.6,222.3L502.7,224.3L501.6,225.1L500,225.5L499.8,226.7L498.3,227L495.8,226.1L495.2,223.9L493.5,223.8L490.6,221.5L488.8,221.2L486.1,219.9L484.5,219.6L483.7,220.1L482.3,220.1L481,221.5L479.2,222L478.5,220.2L478.2,217.5L476.4,216.6L476.5,214.8L475.1,214.7L475.1,212.5L477.2,213.1L478.9,212.3L477,210.8L476,209.3L474.5,209.9Z" fill="#fef0d9"/>
<path d="M512.1,208.9L512.2,207.8L513.5,207.4L517.2,208.3L517.1,206.8L518,206.2L521.4,207.3L522.1,207L525.6,207.1L528.7,207.4L530.1,208.3L531.6,208.7L531.5,209.3L528.7,210.7L528.3,211.7L525.6,212L525.4,213.6L523,213.3L521.7,213.8L520.1,215L520.6,215.6L520.1,216.2L516.2,216.6L513.3,215.8L511.1,216L510.9,214.5L513.3,214.9L513.8,214.1L515.5,214.4L517.7,212.5L514.8,211.2L513.5,211.8L511.6,210.8L512.8,209.2Z" fill="#fef0d9"/>
<path d="M513.8,214.1L513.3,214.9L510.9,214.5L511.1,216L513.3,215.8L516.2,216.6L520.1,216.2L521.4,218.6L522,218.4L523.5,219L523.7,220L524.4,221.5L522.2,221.5L520.7,221.2L519.7,222.4L518.8,222.7L518.1,223.2L517.1,222.4L516.7,220.2L516,220.1L516,219.3L514.7,218.7L514,219.6L514.1,220.6L513.9,221L512.6,221L512.2,222.2L511.3,221.7L510,222.5L509.2,222.2L509.8,219.5L508.8,217.6L507,217L507.3,215.8L509.1,216L509.7,214.5L509.9,212.9L512.6,212.3L512.5,213.5L513,214.2Z" fill="#fdd49e"/>
<path d="M619,189.8L623.1,190.6L626.7,192.4L629.1,194.8L632.2,194.8L633.3,193.8L636.1,193L636.6,195.3L636.5,196.2L637.7,199L637.9,201.5L635.1,201.1L633.9,201.9L635.9,204.2L637.4,207.2L636.4,207.3L637.2,208.6L634.9,207L635,208.5L632.4,209.6L633.5,211L631.6,210.9L630.2,210.1L629.7,211.9L628.1,213.3L627.3,214.9L624.7,215.7L623.7,216.9L621.7,217.6L622.3,216.4L621.4,215.4L622.2,213.7L620.3,212.3L619,213.2L617.5,215L617,216.7L614.9,216.8L614.4,218L616.3,219.8L618.3,220.2L618.9,221.4L620.9,222.1L622.5,220.3L624.9,221.3L626.3,221.4L627.3,222.7L624.5,223.5L624.1,224.9L622.6,226.2L622.2,228L625.1,229.4L627,232L629.2,234.4L631.5,236.4L632.1,238.3L630.9,239L631.9,240.4L633.5,241.2L633.8,243.3L633.9,245.4L632.7,245.6L631.9,248.5L631,251.9L629.6,255L627,257.4L624.3,259.6L621.8,259.9L620.6,261.1L619.7,260.2L618.6,261.5L615.7,262.8L613.4,263.2L613.1,266L611.9,266.1L611,264.2L611.3,263.2L608.1,262.4L607.2,262.8L604.8,262.1L603.5,261.1L603.6,259.6L601.5,259.1L600.2,258.1L598.5,259.5L596.4,259.8L594.6,259.8L593.5,260.4L592.4,260.8L593.2,263.8L592,263.7L591.7,263.1L591.4,262L589.9,262.8L588.8,262.3L587,261.3L587.3,259.2L585.8,258.7L584.9,256.3L582.6,256.7L582.3,253.6L584,251.4L583.6,249.3L583.1,247.3L582,246.7L580.9,245.1L579.7,245.3L577.2,244.9L577.7,243.8L576.2,242.2L574.9,243.3L572.9,242.7L570.7,244.3L569.1,246.3L567.4,246.6L566.3,245.9L565.1,245.8L563.4,245.2L562.3,245.9L561.2,247.8L560.6,245.8L559.4,246.3L556.7,246.1L554.1,245.5L552.1,244.3L550.2,243.8L549.2,242.6L547.9,242.2L545.3,240.5L543.4,239.7L542.6,240.3L539.1,238.5L536.6,236.8L535.3,234L536.9,234.3L536.7,233L535.5,231.6L535.1,229.5L532,226.5L528.1,225.4L527,223.4L525,222.2L524.4,221.5L523.7,220L523.5,219L522,218.4L521.4,218.6L520.1,216.2L520.6,215.6L520.1,215L521.7,213.8L523,213.3L525.4,213.6L525.6,212L528.3,211.7L528.7,210.7L531.5,209.3L531.6,208.7L530.9,207.2L532.1,206.5L528.5,202.1L532.1,201.1L533,200.5L532.6,195.9L537,196.8L537.6,195.6L536.6,193L538.1,192.8L538.9,191.1L539.6,190.9L540.9,192.7L543.2,194L546.6,195L548.9,197L549.5,200L550.7,201.1L553.4,201.6L556.3,201.9L559.6,203.5L561,203.8L563,206.2L564.9,207.7L567.2,207.7L571.8,208.2L574.4,207.9L576.6,208.3L580.5,209.8L583,209.8L584.3,210.6L586.1,209.3L589.1,208.4L592.2,208.2L594.2,207.3L595,206L596,205.1L595.2,204.3L594,203.3L594.2,201.6L595.5,201.8L597.9,202.4L599.2,201L601.8,200L602.3,198.3L603.3,197.6L606,197.2L607.8,197.6L607.5,196.6L604.6,194.9L602.4,194L601.5,195L599.2,194.6L598.3,194.9L597.1,193.9L597,191.4L596.8,189.4L599.8,190.4L601.6,188.8L600.8,187.7L600.8,185L601.3,184.2L600.3,182.8L598.8,182.3L599.4,181L601.5,180.6L604.1,180.5L607.6,181.2L610,182.2L613.1,184.7L614.7,185.8L616.5,187.3ZM613.6,270.3L611.8,271.6L609.9,270.7L609.4,268.5L610.3,267.3L612.7,266.6L614,266.6L614.7,267.6L613.9,268.8Z" fill="#fef0d9"/>
<path d="M539.6,190.9L541.5,190.5L544.2,188.3L546.6,187.1L548.8,187.9L550.9,187.9L552.9,189.1L554.9,189.2L558.1,189.8L559.1,188.1L557.5,186.6L558,184L560.8,185.1L562.8,185.3L565.5,186L567,187.9L570.5,188.9L572.1,188.4L574.4,188.1L576.6,188.5L579.3,189.7L581.3,191L583.1,190.9L585.9,191.4L587.4,190.7L589.8,190.3L591.6,188.5L593,188.8L594.5,189.6L596.8,189.4L597,191.4L597.1,193.9L598.3,194.9L599.2,194.6L601.5,195L602.4,194L604.6,194.9L607.5,196.6L607.8,197.6L606,197.2L603.3,197.6L602.3,198.3L601.8,200L599.2,201L597.9,202.4L595.5,201.8L594.2,201.6L594,203.3L595.2,204.3L596,205.1L595,206L594.2,207.3L592.2,208.2L589.1,208.4L586.1,209.3L584.3,210.6L583,209.8L580.5,209.8L576.6,208.3L574.4,207.9L571.8,208.2L567.2,207.7L564.9,207.7L563,206.2L561,203.8L559.6,203.5L556.3,201.9L553.4,201.6L550.7,201.1L549.5,200L548.9,197L546.6,195L543.2,194L540.9,192.7Z" fill="#fef0d9"/>
<path d="M637.2,208.6L637.8,209L636.9,208.9L636.5,209.7L636.4,210.6L637.5,212.5L636.7,213.1L636.6,213.5L636.2,214.3L635,214.7L634.4,215.4L635,216.5L634.9,216.8L635.9,217.2L637.7,218.4L637.7,219L636.9,219.2L635.4,219.3L635.2,220.5L634.2,220.4L634.1,220.6L632.9,220.1L632.8,220.6L632.3,220.8L632,220.3L631.3,220.1L630.5,219.7L630.6,218.5L630.9,218.2L630.5,217.7L630.4,216.3L630,215.9L628.6,215.6L627.3,214.9L628.1,213.3L629.7,211.9L630.2,210.1L631.6,210.9L633.5,211L632.4,209.6L635,208.5L634.9,207Z" fill="#fc8d59"/>
<path d="M637.7,218.4L641.1,221.4L642.4,223.1L643.8,226.1L643.6,227.5L641.9,228L640.6,229.1L638.7,229.3L637.9,227.9L637.4,226L635.3,223.3L636.7,222.8L634.1,220.6L634.2,220.4L635.2,220.5L635.4,219.3L636.9,219.2L637.7,219Z" fill="#fdd49e"/>
<path d="M666.8,222.2L667,224.3L668,225.6L667.8,227.4L665.6,228.6L661.9,228.8L660.1,231.8L658.2,230.7L657.2,228.8L653.7,229.4L651.7,230.6L649.1,230.6L652.1,232.6L652.4,237L651.4,238.1L650,237.1L649.6,234.7L647.9,234L646.3,232.2L648,231.4L648.5,229.8L650.1,228.4L650.9,226.6L654.8,225.9L657.4,226.4L657.4,221.8L659.4,223L661.3,220.4L662,219.4L661.5,216.2L659.5,213.3L659.4,211.7L661.4,211.2L664.7,214.8L665.8,216.9L665.3,219.5ZM654.9,229.4L656.8,230L657.5,230.9L656.9,232.4L655.6,231.6L654.8,232.2L654.8,233.7L653.1,233L652.6,231.8L653.1,230.2L654.5,230.5ZM662,204L663.8,204.5L664.5,203.5L667,206.3L664.4,207L664.2,209.6L659.8,207.8L660.4,210.7L658.1,210.7L656.2,208.1L656,206.2L658.1,206L656.3,202.5L655.5,200.5L659.8,203.1Z" fill="#fdd49e"/>
<path d="M636.7,255.4L636.2,259.6L635.6,261.7L634,259.5L633.4,257.6L634.1,255L635.5,253L636.7,253.8Z" fill="#fdbb84"/>
<path d="M588.5,266.4L587.3,267.5L585.8,267.6L585.2,270.4L584.3,270.9L585.7,273.2L587.4,275.1L588.5,276.8L588,279.1L587.2,279.6L587.9,280.9L589.7,282.9L590.1,284.4L590.2,285.6L591.3,288L590.2,290.4L589.3,293.1L589,291.2L589.5,289.2L588.6,287.6L588.5,284.8L587.4,283.4L586.4,280.3L585.6,277L584.3,274.9L583,276.2L580.6,278L579.3,277.8L577.8,277.2L578.2,273.9L577.4,271.5L575.2,268.5L575.3,267.6L574,267.2L572.1,265.1L571.6,263L572.5,263.4L572.2,261.5L573.3,260.9L572.9,259.8L573.2,258.9L572.9,256.2L574.7,256.8L575.4,254.7L575.3,253.4L576.1,251.2L575.7,249.7L578.2,247.9L579.9,248.4L579.4,246.8L580.1,246.3L579.7,245.3L580.9,245.1L582,246.7L583.1,247.3L583.6,249.3L584,251.4L582.3,253.6L582.6,256.7L584.9,256.3L585.8,258.7L587.3,259.2L587,261.3L588.8,262.3L589.9,262.8L591.4,262L591.7,263.1L590,264.8L589.7,265.8Z" fill="#fdd49e"/>
<path d="M598.1,287.2L595.9,286L593.9,286.1L594.1,284L592.1,284L592.2,286.9L591.3,290.7L590.7,293L591,294.9L592.5,295L593.6,297.4L594.1,299.6L595.5,301.1L596.9,301.4L598.2,302.8L597.5,303.9L595.9,304.2L595.7,302.8L593.8,301.7L593.4,302.2L592.4,301.1L592,299.9L590.7,298.4L589.5,297.2L589.2,298.7L588.7,297.2L588.8,295.6L589.3,293.1L590.2,290.4L591.3,288L590.2,285.6L590.1,284.4L589.7,282.9L587.9,280.9L587.2,279.6L588,279.1L588.5,276.8L587.4,275.1L585.7,273.2L584.3,270.9L585.2,270.4L585.8,267.6L587.3,267.5L588.5,266.4L589.7,265.8L590.8,266.6L591.2,268.1L592.7,268.3L592.6,271L593,273.3L595.1,271.8L595.9,272.3L597.2,272.2L597.5,271.3L599.3,271.4L601.3,273.6L601.8,276.1L604,278.4L604.1,280.6L603.5,281.8L601.3,281.4L598.5,281.9L597.2,284.1Z" fill="#fdbb84"/>
<path d="M603.5,281.8L604.1,280.6L604,278.4L601.8,276.1L601.3,273.6L599.3,271.4L597.5,271.3L597.2,272.2L595.9,272.3L595.1,271.8L593,273.3L592.6,271L592.7,268.3L591.2,268.1L590.8,266.6L589.7,265.8L590,264.8L591.7,263.1L592,263.7L593.2,263.8L592.4,260.8L593.5,260.4L595.1,262.5L596.5,264.9L599.3,264.9L600.6,267.1L599.2,267.8L598.7,268.8L601.7,270.3L604.1,273.4L605.8,275.7L607.8,277.5L608.6,279.4L608.5,282L606.4,281L605.5,282.8Z" fill="#fdd49e"/>
<path d="M600.5,291.3L599.5,289.9L598.1,287.2L597.2,284.1L598.5,281.9L601.3,281.4L603.5,281.8L605.5,282.8L606.4,281L608.5,282L609.2,283.7L609.3,286.8L605.6,288.8L606.8,290.4L604.4,290.6L602.5,291.7Z" fill="#fdd49e"/>
<path d="M607.2,262.8L604.5,265L603,267.5L602.8,269.3L605,272.1L607.6,275.5L609.9,277.1L611.6,279.2L613.2,284L613.4,288.6L611.6,290.3L609.1,292L607.4,294.2L604.7,296.6L603.8,294.9L604.3,293.1L602.5,291.7L604.4,290.6L606.8,290.4L605.6,288.8L609.3,286.8L609.2,283.7L608.5,282L608.6,279.4L607.8,277.5L605.8,275.7L604.1,273.4L601.7,270.3L598.7,268.8L599.2,267.8L600.6,267.1L599.3,264.9L596.5,264.9L595.1,262.5L593.5,260.4L594.6,259.8L596.4,259.8L598.5,259.5L600.2,258.1L601.5,259.1L603.6,259.6L603.5,261.1L604.8,262.1Z" fill="#fdd49e"/>
<path d="M595.7,302.8L595.9,304.2L597.5,303.9L598.2,302.8L598.7,303L600.1,304.6L601.2,306.3L601.4,308.1L601.2,309.3L601.5,310.2L601.7,311.7L602.5,312.4L603.5,314.8L603.4,315.6L601.8,315.8L599.6,313.9L596.8,311.8L596.5,310.5L595.1,308.7L594.7,306.6L593.8,305.2L594,303.3L593.4,302.2L593.8,301.7ZM636.3,307.3L634.7,308.2L632.7,307.8L630,307.8L629.3,310.7L628.5,311.6L627.4,315.3L625.5,315.8L623.3,315.1L622.2,315.3L620.9,316.7L619.4,316.4L617.9,317L616.3,315.5L615.9,313.8L617.6,314.7L619.4,314.2L619.8,312L620.8,311.5L623.5,310.9L625.1,308.9L626.1,307.2L627.3,308.5L627.7,307.7L628.8,307.7L628.8,304.8L630.6,303L631.6,301L632.5,300.9L633.8,302.3L634,303.4L635.5,304.1L637.5,304.9L637.4,305.9L635.8,306Z" fill="#fdd49e"/>
<path d="M626.1,307.2L627,306.2L628.8,304.8L628.8,307.7L627.7,307.7L627.3,308.5Z" fill="#fef0d9"/>
<path d="M606.7,334.3L604.1,334.3L602.3,332.1L599.4,330L598.5,328.4L596.8,326.3L595.7,324.3L594,320.7L592,318.5L591.3,316.3L590.4,314.3L588.3,312.6L587.1,310.4L585.3,308.9L582.7,306L582.5,304.7L584,304.8L587.5,305.3L589.7,307.9L591.6,309.6L592.9,310.7L595.1,313.5L597.5,313.6L599.4,315.4L600.8,317.5L602.6,318.7L601.6,320.9L602.9,321.8L603.8,321.8L604.1,323.6L604.9,325.1L606.6,325.3L607.7,327L607,330.2ZM613,336.7L617.4,336.9L618,335.9L622.1,337.1L622.9,338.8L626.3,339.3L629,340.8L626.3,341.8L623.9,340.8L621.8,340.8L619.4,340.6L617.3,340.2L614.7,339.2L613,338.9L612.1,339.3L607.9,338.2L607.6,337L605.5,336.9L607.2,334.4L610,334.5L611.8,335.6L612.7,335.7ZM634.7,308.2L633.5,310.6L635.2,313L634.9,314.2L637.5,316.7L634.8,317L634,318.7L634.1,321.1L631.8,322.9L631.7,325.5L630.7,329.5L630.4,328.5L627.7,329.7L626.9,328.1L625.2,328L624.1,327.1L621.4,328.1L620.5,326.8L619,327L617.1,326.6L616.9,323.1L615.7,322.4L614.7,320.2L614.3,317.9L614.6,315.5L615.9,313.8L616.3,315.5L617.9,317L619.4,316.4L620.9,316.7L622.2,315.3L623.3,315.1L625.5,315.8L627.4,315.3L628.5,311.6L629.3,310.7L630,307.8L632.7,307.8ZM651.9,315.3L650,317.9L648.3,318.4L646.1,317.9L642.3,318L640.2,318.4L639.9,320.4L641.9,322.7L643.2,321.5L647.5,320.6L647.3,321.8L646.3,321.4L645.3,323L643.2,324L645.3,327.3L644.8,328.2L646.8,331.2L646.7,332.9L645.4,333.7L644.5,332.8L645.8,330.6L643.5,331.6L642.9,330.9L643.3,329.9L641.7,328.4L641.9,325.9L640.4,326.6L640.4,329.7L640.3,333.4L638.9,333.8L637.9,333L638.7,330.6L638.5,328.1L637.5,328.1L636.9,326.3L637.8,324.6L638.2,322.5L639.4,318.6L639.9,317.5L641.8,315.6L643.6,316.4L646.6,316.7L649.2,316.6L651.5,314.7ZM688.1,325.8L687.6,334.3L687,342.8L685.2,340.6L682.9,340.1L682.3,340.8L679.3,340.9L680.5,338.8L682,338.1L681.6,335.2L680.6,333.1L676.3,330.9L674.4,330.6L671.1,328.2L670.4,329.5L669.4,329.7L669,328.8L669,327.6L667.3,326.4L669.8,325.4L671.5,325.5L671.3,324.8L667.9,324.8L667.1,323.2L665,322.7L664,321.5L667.2,320.8L668.3,320L672.1,321L672.4,322L672.9,326.2L675.3,327.8L677.3,325L680,323.4L682,323.4L684,324.3L685.7,325.3ZM646.7,346L646.4,345.7L646.7,344.8L647.8,343.2L650.2,342.2L650.4,343.5L648.7,345.4ZM634.1,340.1L634.9,340.8L636.3,340.6L636.8,341.7L634.1,342.2L632.5,342.6L631.3,342.5L632.2,341.1L633.4,341ZM645.6,340.1L645.2,341.6L641.6,342.3L638.6,342L638.7,341L640.6,340.5L641.9,341.3L643.5,341.1ZM640.3,345L639.6,344.2L636.3,343.9L638.4,343.4L640.2,345ZM659.8,316.1L659.7,318.3L658.5,318.1L658.2,319.7L659.1,321L658.5,321.3L657.6,319.7L656.9,316.4L657.3,314.3L658,313.3L658.2,314.8L659.6,315ZM661.3,326.3L663.8,327.1L664.5,329.1L662.6,328L660.7,327.8L659.4,327.9L657.8,327.8L658.4,326.4ZM656.3,328L655.4,328.9L653.8,328.4L653.5,327.3L655.8,327.2Z" fill="#fc8d59"/>
<path d="M650.2,342.2L650.5,341.6L652.5,341L654.1,340.9L654.9,340.6L655.7,340.9L654.8,341.6L652.3,342.8L650.4,343.5Z" fill="#fdbb84"/>
<path d="M638.6,270.8L640.1,271.5L640.7,270.8L641,271.5L640.8,272.6L642,274.4L641.7,276.6L640.5,277.5L640.4,279.6L641.2,281.6L642.5,281.9L643.4,281.6L646.5,283.1L646.5,284.5L647.3,285.1L647.2,286.3L645.3,285L644.2,283.7L643.8,284.6L642.1,283.1L640.1,283.4L638.9,282.9L638.9,281.8L639.5,281.1L638.7,280.5L638.5,281.5L637.2,280L636.7,278.8L636.2,276.3L637.3,277.2L636.9,273.1L637.2,270.7ZM653.5,297.1L653.9,298.8L654.1,300.3L653.5,302.7L652.5,300L651.5,301.3L652.3,303.2L651.8,304.5L649,302.9L648.2,301L648.8,299.8L647.3,298.6L646.6,299.7L645.6,299.6L644,301L643.5,300.3L644.3,298.1L645.6,297.3L646.8,296.3L647.7,297.5L649.4,296.8L649.7,295.6L651.3,295.6L651,293.6L653,294.8L653.3,296.1ZM651.5,290.2L649.7,289.5L649.8,290.4L650.6,292L649.5,292.6L649.2,290.7L648.5,290.6L648,289L649.4,289.2L649.3,288.3L647.6,286.3L649.8,286.3L650.6,287.3ZM645.2,288.8L645.3,289.9L644.4,291L643,291.8L642.8,290.6L642.9,289.2L642.4,288L643.8,288.8ZM647.6,292.2L646.9,293.1L646.3,294.7L645.6,295.5L644.1,293.7L644.5,293L645,292.3L645.1,290.6L646.3,290.5L646.1,292.2L647.6,289.7ZM637.7,291.5L636.3,292.9L635.3,294.7L632.4,297.2L633.4,295.4L634.9,293.8L636.1,291.9L637.1,289.4ZM641.2,284.9L640.8,287.2L639.7,285.9L638.3,283.9L640.3,284Z" fill="#fef0d9"/>
<path d="M691.3,354.9L691.8,356.9L693.4,355.9L694,357L695,358.1L694.5,359.2L694.6,361.5L694.7,362.7L695.2,363.1L695.4,365.3L694.9,366.7L695.3,368.4L697.4,369.8L698.7,371L700,372.2L699.5,372.8L700.5,374.4L700.7,377.2L701.7,376.7L702.3,377.8L703,377.4L702.7,380.2L703.9,381.8L704.7,382.8L705.8,384.9L705.8,387L705.4,388.5L704.7,390.1L704.9,392.3L703.9,394.6L703.1,395.8L701.6,398.1L701,399.6L699.7,401.5L697.7,403.9L695.4,405.1L693.6,407.2L692.3,408.4L690.5,410.7L689,412L687.4,413.9L686.1,415.7L685.8,416.6L684,417.5L681.6,417.6L679,418.6L677.4,419.6L675.5,420.8L674.4,419.6L673.3,419.1L674.4,417.8L673,418.3L670.1,420.2L668.6,419.5L667.6,419L666.5,418.9L664.8,418.1L664.3,416.5L664.9,414.5L665.6,412.1L664.5,412.1L662.6,411.8L663.9,410.6L664.3,408.6L662.4,410.5L660.2,410.9L662,409.5L663,408L664.5,406.7L665.1,404.8L662.4,407L660.6,407.9L658.8,410L657.6,408.9L658.3,407.5L657.8,405.6L657,404.6L657.7,404L655.5,402.5L654,402.4L652.4,401.1L648.4,401.4L645.1,402.3L642.3,403.2L640.3,403L637.4,404.3L635.3,404.9L634.4,406.3L633.1,407.4L631.2,407.4L629.8,407.6L628,407.2L626.3,407.5L624.8,407.6L623,409L622.4,408.8L621,409.6L619.6,410.4L618.1,410.3L616.6,410.3L614.9,408.7L614,408.2L614.6,406.7L615.8,406.3L616.4,405.7L616.6,404.8L617.5,403L617.8,401.4L617.5,398.8L617.7,397.3L618.2,395.8L617.8,394.1L618,393.4L617.2,392.3L617.5,390.3L616.8,388.2L616.7,387.1L617.4,388.2L617.3,385.8L618.2,386.5L618.6,387.6L618.9,386.2L618.3,384.2L618.2,383.3L617.8,382.6L618.4,381.1L619,380.4L619.5,379.1L619.6,377.6L620.8,375.7L620.6,377.7L621.9,375.9L623.9,375.1L625.2,373.9L627.1,373L628.2,372.8L628.7,373.1L630.7,372.1L632.1,371.8L632.6,371.2L633.2,371L634.5,371.1L637,370.3L638.4,369.2L639.3,367.8L640.8,366.4L641.1,365.4L641.4,364L643.4,361.8L643.9,364L645,363.5L644.4,362.3L645.3,361L646.2,361.6L646.8,359.6L648.3,358.3L649,357.3L650.2,356.8L650.3,356.1L651.3,356.4L651.4,355.8L652.4,355.4L653.6,355L655.1,356.2L656.2,357.8L657.6,357.8L659,358L658.7,356.6L660.1,354.5L661.2,353.8L661,353.2L662.2,351.7L663.7,350.8L664.8,351.1L666.8,350.6L666.9,349.2L665.3,348.4L666.6,348L668,348.7L669.1,349.7L671,350.4L671.7,350.1L673,350.9L674.4,350.2L675.2,350.4L675.8,349.9L676.7,351.2L675.9,352.6L674.9,353.6L674.1,353.7L674.2,354.8L673.4,356.1L672.4,357.4L672.4,358.1L674,359.5L675.6,360.4L676.6,361.3L678,362.8L678.7,362.8L679.7,363.5L679.9,364.3L681.9,365.2L683.6,364.3L684.3,362.9L685,361.7L685.5,360.3L686.6,358.2L686.4,357L686.7,356.2L686.7,354.7L687.3,352.7L687.8,352.2L687.6,351.4L688.3,350L688.9,348.5L689,347.8L690,346.8L690.5,348.1L690.5,349.7L691,350.1L690.9,351.1L691.6,352.4L691.6,353.9ZM670.8,425.3L672.3,426.2L673.7,425.8L675.7,425.3L676.8,425.5L675,428.6L673.7,429.5L672,431.5L671.8,430.8L669.1,432.6L668.8,432.5L667.5,432.4L667.7,430.2L668.6,428.5L668.8,426.2L669.6,425.1Z" fill="#fef0d9"/>
<path d="M729,425.6L728.7,426.7L731,425.6L730.8,426.7L730,427.8L728.3,429L725.4,430.9L723.5,431.9L723.2,433.2L721.6,433.2L719,434.2L717.1,435.9L713.7,438.5L711.1,439.6L709.5,440.3L707.7,440.3L707.1,439.4L705,439.2L705.4,438.3L708.1,436.4L712.7,433.9L714.5,433.4L716.8,432.4L719.6,431.1L721.9,429.7L724.3,427.8L725.6,427.1L727,425.7L729.4,424.5ZM740.8,413.3L740.7,416L741.8,414.2L742.4,414.9L741.4,416.9L742.6,417.7L743.9,417.9L745.8,417L746.6,417.3L744.6,419.6L742.8,421.1L741.3,421L740.1,421.8L739.5,422.9L738.9,423.4L737,424.8L734.6,426.6L732.2,427.6L732.4,426.9L731.8,426.6L734.6,424.4L734.9,423L733.4,422L734.1,421L736.2,420.1L738,418.1L739,416.4L739.2,414.7L739.6,414.2L739.2,413.2L738.9,410.9L739.1,409L740,408.8L740.3,410.3L741.6,411Z" fill="#fef0d9"/>
<path d="M688.1,325.8L692,327.6L696.2,329.1L697.7,330.4L698.9,331.7L699.2,333.3L702.9,334.9L703.3,336.2L701.2,336.5L701.6,338.3L703.5,340L704.7,342.7L706.1,342.6L705.8,343.8L707.6,344.2L706.8,344.7L709.1,345.8L708.8,346.6L707.3,346.8L706.8,346.1L704.8,345.8L702.5,345.4L701,343.7L699.8,342.3L698.8,340L695.9,338.9L693.9,339.6L692.4,340.5L692.5,342.4L690.6,343.3L689.4,342.9L687,342.8L687.6,334.3ZM714,330.2L713.9,331.7L713,333.3L711.8,333.5L711.3,334.2L710,334.9L708.8,335.5L707.6,335.5L705.8,334.7L704.5,334L704.7,333.2L706.8,333.5L708.1,333.4L708.5,332.1L708.8,332L709,333.4L710.3,333.2L711,332.3L712.3,331.4L712.2,329.9L713.6,329.8ZM711,325.5L712.2,326.2L713,326.8L713.9,327.4L714.8,328.5L715.6,329.4L715.8,330.7L715.1,331.4L714.7,329.9L714.2,328.9L713.2,328L712,326.9L710.4,326.1ZM719.4,332.9L720,333.5L721.1,335.2L722.1,336.1L721.7,336.8L721,337L720.1,336.1L719.2,334.4L718.9,332.4L719.2,332.1Z" fill="#fef0d9"/>
<path d="M730.1,339.9L730.5,340.7L730.6,341.3L728.9,340.1L727.7,339.2L726.9,338.3L727.3,338.1L728.3,338.7ZM733.3,345.6L734.6,346.2L735,346.3L735.6,347.2L734,347.2ZM732.3,344.7L731.4,344.8L730.1,344.5L729.6,344.1L729.9,343.1L731.3,343.5L732,344.1ZM734.3,344L733.9,344.5L732.5,342.3L732.1,340.7L732.9,340.7L733.5,342.8ZM724.5,337.3L725.4,338.2L724.9,338.3L724,337.7L723.1,336.7L723.2,336.2Z" fill="#fdbb84"/>
<path d="M745.4,361.9L744.6,362.3L744.1,361.1L744.4,360.4ZM744.6,357.9L744.5,360L744,359.7L743.5,359.9L743.3,359.1L743.7,357.1Z" fill="#fdbb84"/>
<path d="M768.9,364.2L769.5,365L768.8,366.3L767.3,366.7L766.1,366.3L766.2,365.2L767.3,364.3ZM771.5,362.8L769.9,363.3L769.9,362.4L771.1,361.8L771.9,361.7L773.4,360.9L773.1,362.2Z" fill="#fdbb84"/>
<path d="M308.8,279.8L309.3,279.2L309.7,279.8L309.3,280.3ZM305.5,274.5L306,274L306.5,274.5L306,275.1ZM310.8,277L311.2,276.6L311.6,277L311.2,277.5ZM307.1,280L307.5,279.6L307.8,280L307.4,280.4ZM307.7,275.7L308.1,275.3L308.4,275.7L308,276.1ZM310.7,275.3L311,275L311.3,275.3L311,275.6Z" fill="#fdd49e"/>
<path d="M378,318.3L378.4,317.9L378.8,318.3L378.4,318.8Z" fill="#fc8d59"/>
<path d="M462,349.5L462.5,349L462.9,349.5L462.5,350ZM464.4,350.8L464.8,350.4L465.2,350.8L464.8,351.2Z" fill="#e34a33"/>
<path d="M492.9,371.9L493.5,371.3L493.9,371.9L493.4,372.4Z" fill="#fdbb84"/>
<path d="M490.5,331.2L490.9,330.8L491.2,331.2L490.9,331.6Z" fill="#fef0d9"/>
<path d="M222.2,274.5L222.5,274.1L222.8,274.5L222.5,274.8ZM222.4,276.8L222.9,276.2L223.4,276.8L222.9,277.3ZM222.9,278.8L223.2,278.4L223.5,278.8L223.2,279.2ZM223.5,280.8L223.9,280.4L224.2,280.8L223.8,281.2ZM223.5,282.8L223.8,282.4L224.1,282.8L223.8,283.1ZM226.6,284.7L226.9,284.3L227.2,284.7L226.9,285ZM222.9,284.5L223.2,284.2L223.4,284.5L223.1,284.7ZM221.6,287.5L221.9,287.1L222.2,287.5L221.9,287.8ZM220.2,273.9L220.4,273.6L220.6,273.9L220.4,274.2Z" fill="#fef0d9"/>
<path d="M-31,354.8L-30.3,354.5L-29.6,354.8L-30.2,355.2ZM-29.8,355.4L-29.4,355.1L-28.9,355.4L-29.3,355.7ZM-33.2,374.1L-32.9,373.7L-32.4,374.1L-32.7,374.6Z" fill="#fdbb84"/>
<path d="M726.7,301L727,300.7L727.3,301L727,301.3ZM711.9,299.7L712.2,299.4L712.4,299.7L712.2,300ZM672.2,299.6L672.5,299.2L672.8,299.6L672.5,299.9ZM693.9,283.9L694.1,283.6L694.5,283.9L694.2,284.3ZM-0.1,314.2L0.3,313.7L0.8,314.2L0.3,314.7ZM761.6,315.4L761.8,315.1L762.1,315.4L761.8,315.6ZM756.6,300.5L756.8,300.2L757.1,300.5L756.9,300.8Z" fill="#fef0d9"/>
</g>
<g>
<text class="leg" x="239.5" y="510" text-anchor="middle" textLength="46" lengthAdjust="spacingAndGlyphs">No data</text>
<line x1="239.5" y1="514.5" x2="239.5" y2="517" stroke="#999" stroke-width="0.7"/>
<rect x="215.3" y="517" width="48" height="11.3" fill="url(#nd)" stroke="#bdbdbd" stroke-width="0.6"/>
<rect x="283.5" y="517" width="58.4" height="11.3" fill="#fef0d9"/>
<rect x="341.9" y="517" width="58.4" height="11.3" fill="#fdd49e"/>
<rect x="400.3" y="517" width="58.4" height="11.3" fill="#fdbb84"/>
<rect x="458.7" y="517" width="58.4" height="11.3" fill="#fc8d59"/>
<rect x="517.1" y="517" width="58.4" height="11.3" fill="#e34a33"/>
<path d="M575.5,517H629l5,5.65l-5,5.65H575.5Z" fill="#b30000"/>
<path d="M283.5,517H629l5,5.65l-5,5.65H283.5Z" fill="none" stroke="#b8b0a8" stroke-width="0.6"/>
<g stroke="#8a8a8a" stroke-width="0.6">
<line x1="283.5" y1="514" x2="283.5" y2="528.3"/>
<line x1="341.9" y1="514" x2="341.9" y2="528.3"/>
<line x1="400.3" y1="514" x2="400.3" y2="528.3"/>
<line x1="458.7" y1="514" x2="458.7" y2="528.3"/>
<line x1="517.1" y1="514" x2="517.1" y2="528.3"/>
<line x1="575.5" y1="514" x2="575.5" y2="528.3"/>
</g>
<text class="leg" x="282.5" y="510" text-anchor="middle">0%</text>
<text class="leg" x="341.9" y="510" text-anchor="middle">10%</text>
<text class="leg" x="400.3" y="510" text-anchor="middle">20%</text>
<text class="leg" x="458.7" y="510" text-anchor="middle">30%</text>
<text class="leg" x="517.1" y="510" text-anchor="middle">40%</text>
<text class="leg" x="575.5" y="510" text-anchor="middle">50%</text>
</g>
<text class="foot" x="16.3" y="560.8" style="font-weight:700;fill:#666" textLength="72.3" lengthAdjust="spacingAndGlyphs">Data source:</text>
<text class="foot" x="92" y="560.8" textLength="295.6" lengthAdjust="spacingAndGlyphs">Prevalence of zinc deficiency - Wessells et al. (2012)</text>
<text class="foot" x="16.3" y="580.8" style="font-weight:700;fill:#666" textLength="32" lengthAdjust="spacingAndGlyphs">Note:</text>
<text class="foot" x="51.8" y="580.8" textLength="117" lengthAdjust="spacingAndGlyphs">Wessels et al. (2012)</text>
<text class="foot" x="526.3" y="560.8" textLength="307.7" lengthAdjust="spacingAndGlyphs">OurWorldinData.org/micronutrient-deficiency | CC BY</text>
</svg>
</body>
</html>
